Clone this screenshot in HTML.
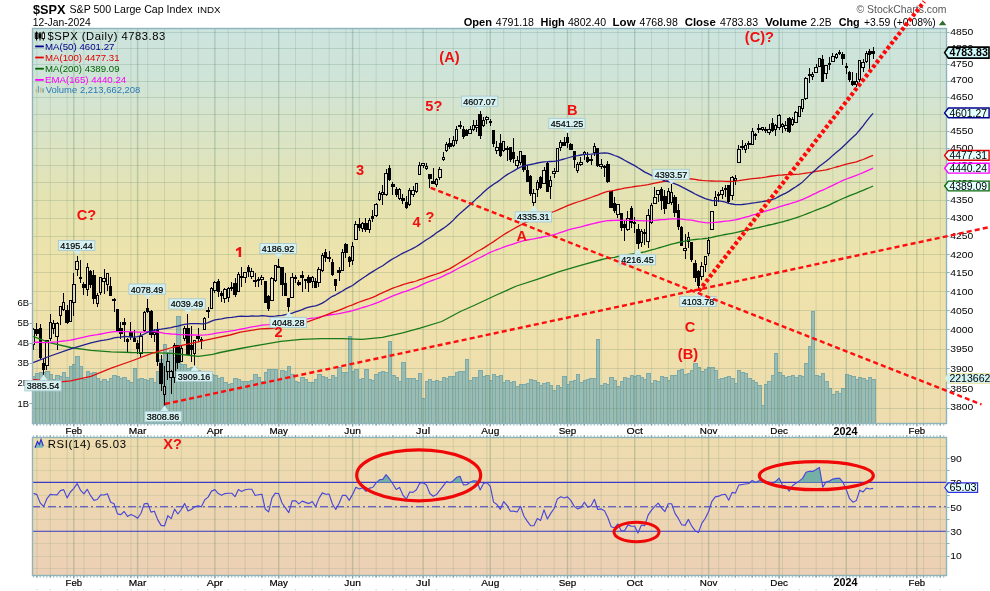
<!DOCTYPE html><html><head><meta charset="utf-8"><title>$SPX</title><style>html,body{margin:0;padding:0;background:#fff}body{width:990px;height:591px;overflow:hidden;position:relative;font-family:"Liberation Sans",sans-serif}svg text{font-family:"Liberation Sans",sans-serif}</style></head><body><svg width="990" height="591" viewBox="0 0 990 591" style="position:absolute;left:0;top:0;will-change:transform">
<defs>
<linearGradient id="g1" x1="0" y1="0" x2="0" y2="1">
<stop offset="0" stop-color="#cce4df"/><stop offset="0.12" stop-color="#cfe4d8"/><stop offset="0.45" stop-color="#e6e3b0"/><stop offset="0.62" stop-color="#efe3ab"/><stop offset="1" stop-color="#eedcae"/>
</linearGradient>
<linearGradient id="g2" x1="0" y1="0" x2="0" y2="1">
<stop offset="0" stop-color="#eedcae"/><stop offset="1" stop-color="#ecd0b6"/>
</linearGradient>
<clipPath id="cp1"><rect x="32" y="28" width="915" height="396"/></clipPath>
<clipPath id="cp2"><rect x="32" y="437" width="915" height="139"/></clipPath>
</defs>
<rect x="0" y="0" width="990" height="591" fill="#fff"/>
<rect x="32" y="28" width="915" height="396" fill="url(#g1)"/>
<rect x="32" y="437" width="915" height="139" fill="url(#g2)"/>
<path d="M32.5 424V376.5H35.5V424M35.5 424V373.5H39.5V424M39.5 424V372.5H42.5V424M42.5 424V372.5H45.5V424M45.5 424V371.5H49.5V424M49.5 424V374.5H52.5V424M52.5 424V379.5H55.5V424M55.5 424V375.5H59.5V424M59.5 424V376.5H62.5V424M62.5 424V372.5H65.5V424M65.5 424V377.5H69.5V424M69.5 424V366.5H72.5V424M72.5 424V364.5H75.5V424M75.5 424V356.5H79.5V424M79.5 424V366.5H82.5V424M82.5 424V379.5H86.5V424M86.5 424V371.5H89.5V424M89.5 424V373.5H92.5V424M92.5 424V372.5H96.5V424M96.5 424V378.5H99.5V424M99.5 424V381.5H102.5V424M102.5 424V379.5H106.5V424M106.5 424V381.5H109.5V424M109.5 424V378.5H112.5V424M112.5 424V375.5H116.5V424M116.5 424V376.5H119.5V424M119.5 424V378.5H122.5V424M122.5 424V377.5H126.5V424M126.5 424V380.5H129.5V424M129.5 424V382.5H133.5V424M133.5 424V368.5H136.5V424M136.5 424V379.5H139.5V424M139.5 424V378.5H143.5V424M143.5 424V379.5H146.5V424M146.5 424V380.5H149.5V424M149.5 424V378.5H153.5V424M153.5 424V382.5H156.5V424M156.5 424V371.5H159.5V424M159.5 424V359.5H163.5V424M163.5 424V344.5H166.5V424M166.5 424V352.5H169.5V424M169.5 424V350.5H173.5V424M173.5 424V357.5H176.5V424M176.5 424V316.5H180.5V424M180.5 424V364.5H183.5V424M183.5 424V364.5H186.5V424M186.5 424V368.5H190.5V424M190.5 424V367.5H193.5V424M193.5 424V367.5H196.5V424M196.5 424V370.5H200.5V424M200.5 424V372.5H203.5V424M203.5 424V374.5H206.5V424M206.5 424V374.5H210.5V424M210.5 424V374.5H213.5V424M213.5 424V375.5H217.5V424M217.5 424V378.5H220.5V424M220.5 424V377.5H223.5V424M223.5 424V382.5H227.5V424M227.5 424V384.5H230.5V424M230.5 424V383.5H233.5V424M233.5 424V378.5H237.5V424M237.5 424V379.5H240.5V424M240.5 424V381.5H243.5V424M243.5 424V381.5H247.5V424M247.5 424V381.5H250.5V424M250.5 424V380.5H253.5V424M253.5 424V374.5H257.5V424M257.5 424V377.5H260.5V424M260.5 424V381.5H264.5V424M264.5 424V372.5H267.5V424M267.5 424V369.5H270.5V424M270.5 424V369.5H274.5V424M274.5 424V369.5H277.5V424M277.5 424V379.5H280.5V424M280.5 424V370.5H284.5V424M284.5 424V371.5H287.5V424M287.5 424V366.5H290.5V424M290.5 424V374.5H294.5V424M294.5 424V381.5H297.5V424M297.5 424V382.5H300.5V424M300.5 424V377.5H304.5V424M304.5 424V379.5H307.5V424M307.5 424V382.5H311.5V424M311.5 424V382.5H314.5V424M314.5 424V379.5H317.5V424M317.5 424V374.5H321.5V424M321.5 424V376.5H324.5V424M324.5 424V377.5H327.5V424M327.5 424V379.5H331.5V424M331.5 424V375.5H334.5V424M334.5 424V377.5H337.5V424M337.5 424V367.5H341.5V424M341.5 424V372.5H344.5V424M344.5 424V372.5H348.5V424M348.5 424V336.5H351.5V424M351.5 424V371.5H354.5V424M354.5 424V369.5H358.5V424M358.5 424V379.5H361.5V424M361.5 424V378.5H364.5V424M364.5 424V369.5H368.5V424M368.5 424V379.5H371.5V424M371.5 424V380.5H374.5V424M374.5 424V374.5H378.5V424M378.5 424V372.5H381.5V424M381.5 424V371.5H384.5V424M384.5 424V372.5H388.5V424M388.5 424V341.5H391.5V424M391.5 424V375.5H395.5V424M395.5 424V377.5H398.5V424M398.5 424V381.5H401.5V424M401.5 424V362.5H405.5V424M405.5 424V378.5H408.5V424M408.5 424V378.5H411.5V424M411.5 424V378.5H415.5V424M415.5 424V380.5H418.5V424M418.5 424V373.5H421.5V424M421.5 424V398.5H425.5V424M425.5 424V381.5H428.5V424M428.5 424V379.5H431.5V424M431.5 424V381.5H435.5V424M435.5 424V380.5H438.5V424M438.5 424V381.5H442.5V424M442.5 424V377.5H445.5V424M445.5 424V378.5H448.5V424M448.5 424V376.5H452.5V424M452.5 424V376.5H455.5V424M455.5 424V372.5H458.5V424M458.5 424V371.5H462.5V424M462.5 424V371.5H465.5V424M465.5 424V359.5H468.5V424M468.5 424V380.5H472.5V424M472.5 424V377.5H475.5V424M475.5 424V377.5H478.5V424M478.5 424V370.5H482.5V424M482.5 424V376.5H485.5V424M485.5 424V375.5H489.5V424M489.5 424V380.5H492.5V424M492.5 424V374.5H495.5V424M495.5 424V376.5H499.5V424M499.5 424V375.5H502.5V424M502.5 424V382.5H505.5V424M505.5 424V380.5H509.5V424M509.5 424V382.5H512.5V424M512.5 424V381.5H515.5V424M515.5 424V386.5H519.5V424M519.5 424V384.5H522.5V424M522.5 424V384.5H526.5V424M526.5 424V383.5H529.5V424M529.5 424V379.5H532.5V424M532.5 424V380.5H536.5V424M536.5 424V382.5H539.5V424M539.5 424V385.5H542.5V424M542.5 424V383.5H546.5V424M546.5 424V382.5H549.5V424M549.5 424V385.5H552.5V424M552.5 424V390.5H556.5V424M556.5 424V385.5H559.5V424M559.5 424V387.5H562.5V424M562.5 424V376.5H566.5V424M566.5 424V384.5H569.5V424M569.5 424V381.5H573.5V424M573.5 424V380.5H576.5V424M576.5 424V374.5H579.5V424M579.5 424V382.5H583.5V424M583.5 424V380.5H586.5V424M586.5 424V379.5H589.5V424M589.5 424V378.5H593.5V424M593.5 424V378.5H596.5V424M596.5 424V339.5H599.5V424M599.5 424V385.5H603.5V424M603.5 424V383.5H606.5V424M606.5 424V384.5H609.5V424M609.5 424V377.5H613.5V424M613.5 424V380.5H616.5V424M616.5 424V386.5H620.5V424M620.5 424V381.5H623.5V424M623.5 424V377.5H626.5V424M626.5 424V378.5H630.5V424M630.5 424V375.5H633.5V424M633.5 424V376.5H636.5V424M636.5 424V375.5H640.5V424M640.5 424V377.5H643.5V424M643.5 424V379.5H646.5V424M646.5 424V373.5H650.5V424M650.5 424V383.5H653.5V424M653.5 424V380.5H656.5V424M656.5 424V381.5H660.5V424M660.5 424V376.5H663.5V424M663.5 424V377.5H667.5V424M667.5 424V380.5H670.5V424M670.5 424V375.5H673.5V424M673.5 424V375.5H677.5V424M677.5 424V370.5H680.5V424M680.5 424V369.5H683.5V424M683.5 424V374.5H687.5V424M687.5 424V373.5H690.5V424M690.5 424V370.5H693.5V424M693.5 424V363.5H697.5V424M697.5 424V367.5H700.5V424M700.5 424V371.5H704.5V424M704.5 424V369.5H707.5V424M707.5 424V367.5H710.5V424M710.5 424V367.5H714.5V424M714.5 424V370.5H717.5V424M717.5 424V379.5H720.5V424M720.5 424V378.5H724.5V424M724.5 424V377.5H727.5V424M727.5 424V376.5H730.5V424M730.5 424V378.5H734.5V424M734.5 424V383.5H737.5V424M737.5 424V370.5H740.5V424M740.5 424V372.5H744.5V424M744.5 424V373.5H747.5V424M747.5 424V378.5H751.5V424M751.5 424V380.5H754.5V424M754.5 424V382.5H757.5V424M757.5 424V385.5H761.5V424M761.5 424V405.5H764.5V424M764.5 424V384.5H767.5V424M767.5 424V381.5H771.5V424M771.5 424V375.5H774.5V424M774.5 424V353.5H777.5V424M777.5 424V372.5H781.5V424M781.5 424V375.5H784.5V424M784.5 424V377.5H787.5V424M787.5 424V376.5H791.5V424M791.5 424V375.5H794.5V424M794.5 424V377.5H798.5V424M798.5 424V375.5H801.5V424M801.5 424V376.5H804.5V424M804.5 424V363.5H808.5V424M808.5 424V346.5H811.5V424M811.5 424V311.5H814.5V424M814.5 424V375.5H818.5V424M818.5 424V376.5H821.5V424M821.5 424V373.5H824.5V424M824.5 424V381.5H828.5V424M828.5 424V388.5H831.5V424M831.5 424V394.5H835.5V424M835.5 424V391.5H838.5V424M838.5 424V393.5H841.5V424M841.5 424V388.5H845.5V424M845.5 424V374.5H848.5V424M848.5 424V375.5H851.5V424M851.5 424V376.5H855.5V424M855.5 424V379.5H858.5V424M858.5 424V377.5H861.5V424M861.5 424V378.5H865.5V424M865.5 424V380.5H868.5V424M868.5 424V377.5H871.5V424M871.5 424V379.5H875.5V424" fill="#9cbcb1" stroke="#7caaa8" stroke-width="1" clip-path="url(#cp1)" shape-rendering="crispEdges"/>
<path d="M36.9 28V424M36.9 437V576M50.3 28V424M50.3 437V576M67.1 28V424M67.1 437V576M83.9 28V424M83.9 437V576M100.7 28V424M100.7 437V576M117.5 28V424M117.5 437V576M130.9 28V424M130.9 437V576M147.7 28V424M147.7 437V576M164.5 28V424M164.5 437V576M181.3 28V424M181.3 437V576M198.1 28V424M198.1 437V576M228.3 28V424M228.3 437V576M245.1 28V424M245.1 437V576M261.9 28V424M261.9 437V576M295.5 28V424M295.5 437V576M312.3 28V424M312.3 437V576M329.1 28V424M329.1 437V576M345.8 28V424M345.8 437V576M359.3 28V424M359.3 437V576M376.1 28V424M376.1 437V576M392.9 28V424M392.9 437V576M406.3 28V424M406.3 437V576M436.5 28V424M436.5 437V576M453.3 28V424M453.3 437V576M470.1 28V424M470.1 437V576M486.9 28V424M486.9 437V576M503.7 28V424M503.7 437V576M520.5 28V424M520.5 437V576M537.3 28V424M537.3 437V576M554.1 28V424M554.1 437V576M570.9 28V424M570.9 437V576M584.3 28V424M584.3 437V576M601.1 28V424M601.1 437V576M617.9 28V424M617.9 437V576M651.5 28V424M651.5 437V576M668.3 28V424M668.3 437V576M685.1 28V424M685.1 437V576M701.9 28V424M701.9 437V576M718.7 28V424M718.7 437V576M735.4 28V424M735.4 437V576M752.2 28V424M752.2 437V576M765.7 28V424M765.7 437V576M782.5 28V424M782.5 437V576M799.3 28V424M799.3 437V576M816.1 28V424M816.1 437V576M832.8 28V424M832.8 437V576M859.7 28V424M859.7 437V576M876.5 28V424M876.5 437V576M889.9 28V424M889.9 437V576M906.7 28V424M906.7 437V576M923.5 28V424M923.5 437V576M940.3 28V424M940.3 437V576" stroke="#4f7f5c" stroke-opacity="0.16" stroke-width="1" fill="none"/>
<path d="M73.8 28V424M73.8 437V576M137.6 28V424M137.6 437V576M214.9 28V424M214.9 437V576M278.7 28V424M278.7 437V576M352.6 28V424M352.6 437V576M423.1 28V424M423.1 437V576M490.3 28V424M490.3 437V576M567.5 28V424M567.5 437V576M634.7 28V424M634.7 437V576M708.6 28V424M708.6 437V576M779.1 28V424M779.1 437V576M846.3 28V424M846.3 437V576M916.8 28V424M916.8 437V576" stroke="#4f7f5c" stroke-opacity="0.28" stroke-width="1.4" fill="none"/>
<path d="M32 408.5H947M32 388.5H947M32 368.5H947M32 349.5H947M32 329.5H947M32 310.5H947M32 291.5H947M32 272.5H947M32 254.5H947M32 236.5H947M32 218.5H947M32 200.5H947M32 182.5H947M32 165.5H947M32 148.5H947M32 131.5H947M32 114.5H947M32 97.5H947M32 81.5H947M32 64.5H947M32 48.5H947M32 32.5H947" stroke="#4f7f5c" stroke-opacity="0.2" stroke-width="1" fill="none"/>
<path d="M32 568.5H947M32 556.5H947M32 543.5H947M32 531.5H947M32 519.5H947M32 507.5H947M32 495.5H947M32 482.5H947M32 470.5H947M32 458.5H947M32 446.5H947" stroke="#4f7f5c" stroke-opacity="0.13" stroke-width="1" fill="none"/>
<path d="M33.5 328V329M33.5 344V350M36.5 323V336M40.5 324V359M43.5 359V375M46.5 365V370M50.5 314V322M50.5 338V341M53.5 320V323M53.5 328V334M57.5 322V323M57.5 336V350M60.5 315V325M63.5 293V302M63.5 309V311M67.5 305V324M73.5 273V284M73.5 302V316M77.5 256V261M77.5 269V276M80.5 260V283M83.5 282V295M87.5 263V267M87.5 289V296M90.5 270V288M93.5 270V304M97.5 293V295M97.5 303V307M100.5 292V295M104.5 269V278M104.5 281V294M107.5 284V291M110.5 277V296M114.5 298V299M114.5 300V312M117.5 309V332M120.5 322V339M124.5 318V342M127.5 338V352M130.5 322V340M134.5 330V342M137.5 340V354M140.5 333V336M140.5 353V358M144.5 311V312M144.5 330V332M147.5 299V313M151.5 310V338M154.5 329V332M154.5 334V342M157.5 322V366M161.5 355V391M164.5 366V386M164.5 394V406M167.5 353V361M167.5 371V380M171.5 370V371M171.5 377V394M174.5 343V345M174.5 377V383M177.5 345V369M181.5 346V348M184.5 326V328M184.5 338V341M187.5 314V355M191.5 326V362M194.5 353V366M198.5 328V342M201.5 337V349M204.5 317V318M208.5 307V310M208.5 311V318M211.5 287V288M214.5 281V282M214.5 290V293M218.5 279V297M221.5 291V302M224.5 288V289M224.5 298V303M228.5 287V288M228.5 297V302M231.5 282V291M235.5 278V297M238.5 272V274M241.5 267V287M245.5 277V283M248.5 265V277M251.5 268V271M251.5 276V279M255.5 273V287M258.5 277V279M258.5 280V287M261.5 275V277M261.5 279V285M265.5 281V303M268.5 295V311M271.5 277V278M275.5 280V282M278.5 259V266M282.5 267V296M285.5 273V296M288.5 298V312M292.5 273V277M295.5 275V277M295.5 278V283M298.5 280V286M302.5 271V292M305.5 279V289M308.5 275V292M312.5 276V277M312.5 281V288M315.5 278V288M318.5 267V269M318.5 282V287M322.5 253V255M322.5 270V272M325.5 249V262M329.5 251V257M329.5 258V262M332.5 259V276M335.5 279V291M339.5 267V281M342.5 249V252M345.5 243V258M349.5 256V267M352.5 242V246M352.5 260V265M355.5 221V224M359.5 218V231M362.5 222V223M362.5 228V232M365.5 218V232M369.5 218V220M369.5 229V233M372.5 210V222M376.5 203V204M376.5 215V217M379.5 191V193M379.5 199V201M382.5 185V192M382.5 194V205M386.5 169V173M386.5 194V196M389.5 165V181M392.5 182V195M396.5 187V197M399.5 188V189M399.5 198V200M402.5 194V204M406.5 196V209M409.5 188V190M409.5 204V206M413.5 186V190M413.5 194V197M416.5 191V193M419.5 162V165M423.5 165V168M426.5 163V166M426.5 168V170M429.5 174V188M433.5 168V184M436.5 178V179M436.5 184V187M439.5 167V169M439.5 177V180M443.5 152V157M443.5 159V161M446.5 142V144M446.5 150V152M449.5 138V149M453.5 136V140M453.5 145V147M456.5 126V129M456.5 140V144M460.5 121V125M460.5 126V129M463.5 126V139M466.5 129V136M470.5 126V129M473.5 120V125M473.5 129V131M476.5 120V125M476.5 127V132M480.5 111V139M483.5 117V120M483.5 125V127M486.5 116V117M486.5 119V124M490.5 119V126M493.5 130V147M496.5 141V147M496.5 150V154M500.5 134V157M503.5 150V152M507.5 146V148M507.5 149V161M510.5 147V162M513.5 138V163M517.5 156V160M517.5 165V168M520.5 162V165M523.5 155V172M527.5 165V182M530.5 175V196M533.5 189V193M533.5 202V206M537.5 180V182M537.5 189V197M540.5 176V189M544.5 167V170M547.5 162V192M550.5 176V180M550.5 186V199M554.5 168V171M554.5 173V178M560.5 140V142M560.5 147V151M564.5 137V146M567.5 133V148M570.5 143V150M574.5 151V168M577.5 162V164M577.5 170V173M580.5 157V162M580.5 164V166M584.5 151V152M584.5 154V160M587.5 152V163M591.5 155V159M591.5 160V165M594.5 143V146M594.5 152V156M597.5 148V167M601.5 159V164M601.5 166V169M604.5 165V177M607.5 161V183M611.5 191V208M614.5 197V213M617.5 214V218M621.5 213V231M624.5 220V241M627.5 211V218M627.5 229V231M631.5 206V228M634.5 217V222M634.5 223V233M638.5 224V249M641.5 229V231M641.5 242V247M644.5 229V245M648.5 209V215M648.5 241V248M651.5 203V205M651.5 222V224M654.5 187V197M658.5 194V202M661.5 187V210M664.5 190V214M668.5 188V191M671.5 184V192M671.5 202V205M674.5 195V217M678.5 204V230M681.5 226V246M685.5 234V248M685.5 250V259M688.5 232V237M688.5 241V248M691.5 242V262M695.5 260V282M698.5 270V291M701.5 262V266M701.5 276V280M705.5 264V272M708.5 237V240M708.5 253V256M715.5 191V197M718.5 192V194M718.5 195V202M722.5 187V190M722.5 194V199M725.5 185V197M728.5 185V203M732.5 176V177M732.5 195V200M735.5 175V178M735.5 180V185M738.5 145V149M742.5 140V150M745.5 143V145M745.5 149V153M748.5 141V143M748.5 144V149M752.5 128V131M755.5 133V140M758.5 124V128M758.5 129V133M762.5 129V131M765.5 127V133M769.5 124V129M769.5 132V135M772.5 118V132M775.5 124V125M775.5 129V136M779.5 114V115M779.5 127V130M782.5 123V124M782.5 126V133M785.5 121V125M785.5 128V131M789.5 117V133M792.5 117V119M792.5 124V126M795.5 111V112M802.5 108V112M805.5 77V78M805.5 98V100M809.5 68V83M812.5 72V74M812.5 76V80M816.5 64V67M822.5 55V82M826.5 73V79M829.5 57V63M829.5 64V70M832.5 53V56M836.5 53V54M836.5 57V59M839.5 50V55M842.5 52V65M846.5 63V74M849.5 71V82M852.5 72V86M856.5 73V81M856.5 84V87M859.5 79V82M863.5 59V62M863.5 67V72M866.5 51V53M866.5 61V63M869.5 49V69M873.5 47V59" stroke="#000" stroke-width="1" fill="none" shape-rendering="crispEdges"/>
<path d="M32.5 329.5h2V344.5h-2zM45.5 340.5h3V365.5h-3zM49.5 322.5h2V338.5h-2zM52.5 323.5h2V328.5h-2zM55.5 323.5h3V336.5h-3zM59.5 306.5h2V315.5h-2zM62.5 302.5h2V309.5h-2zM69.5 300.5h2V321.5h-2zM72.5 284.5h3V302.5h-3zM75.5 261.5h3V269.5h-3zM86.5 267.5h2V289.5h-2zM96.5 295.5h2V303.5h-2zM99.5 277.5h2V292.5h-2zM102.5 278.5h3V281.5h-3zM106.5 273.5h2V284.5h-2zM139.5 336.5h3V353.5h-3zM143.5 312.5h2V330.5h-2zM153.5 332.5h2V334.5h-2zM163.5 386.5h2V394.5h-2zM166.5 361.5h3V371.5h-3zM169.5 371.5h3V377.5h-3zM173.5 345.5h2V377.5h-2zM180.5 348.5h2V361.5h-2zM183.5 328.5h2V338.5h-2zM193.5 340.5h2V353.5h-2zM203.5 318.5h2V329.5h-2zM210.5 288.5h2V308.5h-2zM213.5 282.5h3V290.5h-3zM223.5 289.5h3V298.5h-3zM227.5 288.5h2V297.5h-2zM237.5 274.5h2V291.5h-2zM243.5 272.5h3V277.5h-3zM250.5 271.5h3V276.5h-3zM260.5 277.5h3V279.5h-3zM270.5 278.5h3V300.5h-3zM274.5 265.5h2V280.5h-2zM290.5 277.5h3V297.5h-3zM311.5 277.5h2V281.5h-2zM317.5 269.5h3V282.5h-3zM321.5 255.5h2V270.5h-2zM341.5 252.5h2V270.5h-2zM351.5 246.5h2V260.5h-2zM354.5 224.5h3V239.5h-3zM361.5 223.5h2V228.5h-2zM368.5 220.5h2V229.5h-2zM374.5 204.5h3V215.5h-3zM378.5 193.5h2V199.5h-2zM381.5 192.5h2V194.5h-2zM384.5 173.5h3V194.5h-3zM398.5 189.5h2V198.5h-2zM408.5 190.5h2V204.5h-2zM411.5 190.5h3V194.5h-3zM415.5 183.5h2V191.5h-2zM418.5 165.5h2V174.5h-2zM421.5 163.5h3V165.5h-3zM425.5 166.5h2V168.5h-2zM435.5 179.5h2V184.5h-2zM438.5 169.5h3V177.5h-3zM442.5 157.5h2V159.5h-2zM445.5 144.5h2V150.5h-2zM452.5 140.5h2V145.5h-2zM455.5 129.5h2V140.5h-2zM468.5 129.5h3V133.5h-3zM472.5 125.5h2V129.5h-2zM475.5 125.5h3V127.5h-3zM482.5 120.5h2V125.5h-2zM485.5 117.5h3V119.5h-3zM495.5 147.5h3V150.5h-3zM502.5 141.5h2V150.5h-2zM515.5 160.5h3V165.5h-3zM519.5 151.5h2V162.5h-2zM532.5 193.5h3V202.5h-3zM536.5 182.5h2V189.5h-2zM542.5 170.5h3V183.5h-3zM549.5 180.5h2V186.5h-2zM552.5 171.5h3V173.5h-3zM556.5 148.5h2V171.5h-2zM559.5 142.5h2V147.5h-2zM576.5 164.5h2V170.5h-2zM579.5 162.5h3V164.5h-3zM583.5 152.5h2V154.5h-2zM593.5 146.5h2V152.5h-2zM599.5 164.5h3V166.5h-3zM616.5 204.5h3V214.5h-3zM626.5 218.5h3V229.5h-3zM640.5 231.5h2V242.5h-2zM646.5 215.5h3V241.5h-3zM650.5 205.5h2V222.5h-2zM653.5 197.5h3V203.5h-3zM656.5 190.5h3V194.5h-3zM667.5 191.5h2V203.5h-2zM670.5 192.5h2V202.5h-2zM683.5 248.5h3V250.5h-3zM687.5 237.5h2V241.5h-2zM700.5 266.5h3V276.5h-3zM704.5 256.5h2V264.5h-2zM707.5 240.5h2V253.5h-2zM710.5 211.5h3V229.5h-3zM714.5 197.5h2V205.5h-2zM720.5 190.5h3V194.5h-3zM730.5 177.5h3V195.5h-3zM734.5 178.5h2V180.5h-2zM737.5 149.5h3V162.5h-3zM744.5 145.5h2V149.5h-2zM751.5 131.5h2V144.5h-2zM761.5 127.5h2V129.5h-2zM767.5 129.5h3V132.5h-3zM774.5 125.5h2V129.5h-2zM777.5 115.5h3V127.5h-3zM781.5 124.5h2V126.5h-2zM784.5 125.5h3V128.5h-3zM791.5 119.5h2V124.5h-2zM794.5 112.5h3V122.5h-3zM798.5 106.5h2V116.5h-2zM801.5 99.5h2V108.5h-2zM804.5 78.5h3V98.5h-3zM811.5 74.5h2V76.5h-2zM814.5 67.5h3V72.5h-3zM818.5 58.5h2V66.5h-2zM824.5 65.5h3V73.5h-3zM831.5 56.5h3V61.5h-3zM835.5 54.5h2V57.5h-2zM855.5 81.5h2V84.5h-2zM858.5 60.5h2V79.5h-2zM861.5 62.5h3V67.5h-3zM865.5 53.5h2V61.5h-2z" stroke="#000" stroke-width="1" fill="#fff" fill-opacity="0.22" shape-rendering="crispEdges"/>
<path d="M35 329h4V334h-4zM39 328h3V358h-3zM42 363h3V370h-3zM65 310h4V323h-4zM79 277h3V279h-3zM82 284h4V288h-4zM89 271h3V285h-3zM92 275h4V299h-4zM109 286h3V296h-3zM112 299h4V301h-4zM116 309h3V331h-3zM119 328h4V334h-4zM122 322h4V325h-4zM126 339h3V342h-3zM129 332h4V337h-4zM133 338h3V342h-3zM136 343h3V349h-3zM146 308h3V312h-3zM149 311h4V335h-4zM156 330h3V362h-3zM159 363h4V384h-4zM176 345h4V363h-4zM186 328h4V355h-4zM190 345h3V350h-3zM196 336h4V339h-4zM200 339h3V341h-3zM206 310h4V312h-4zM217 281h3V292h-3zM220 293h3V296h-3zM230 287h3V289h-3zM233 283h4V295h-4zM240 276h3V278h-3zM247 267h3V272h-3zM253 280h4V282h-4zM257 279h3V281h-3zM264 281h3V303h-3zM267 296h3V309h-3zM277 266h3V268h-3zM280 267h4V285h-4zM284 283h3V296h-3zM287 298h3V307h-3zM294 277h3V279h-3zM297 282h4V285h-4zM300 275h4V278h-4zM304 279h3V281h-3zM307 277h4V283h-4zM314 281h3V288h-3zM324 252h3V258h-3zM327 257h4V259h-4zM331 262h3V275h-3zM334 279h3V286h-3zM337 270h4V273h-4zM344 244h4V253h-4zM348 257h3V262h-3zM358 224h3V228h-3zM364 223h4V230h-4zM371 216h3V219h-3zM388 168h3V180h-3zM391 184h4V187h-4zM395 189h3V195h-3zM401 198h4V201h-4zM405 202h3V208h-3zM428 174h4V179h-4zM431 181h4V184h-4zM448 143h4V147h-4zM458 125h4V127h-4zM462 129h3V137h-3zM465 130h3V136h-3zM478 114h4V136h-4zM489 121h3V123h-3zM492 130h3V144h-3zM499 143h3V156h-3zM505 148h4V150h-4zM509 147h3V160h-3zM512 152h3V159h-3zM522 155h4V170h-4zM526 170h3V182h-3zM529 176h3V194h-3zM539 177h3V188h-3zM546 163h3V192h-3zM562 142h4V146h-4zM566 137h3V143h-3zM569 144h4V150h-4zM573 151h3V160h-3zM586 157h3V162h-3zM589 159h4V161h-4zM596 148h3V166h-3zM603 166h3V168h-3zM606 164h4V182h-4zM609 191h4V208h-4zM613 203h3V211h-3zM620 213h3V228h-3zM623 224h3V228h-3zM630 208h3V223h-3zM633 222h3V224h-3zM636 229h4V244h-4zM643 232h3V234h-3zM660 189h3V201h-3zM663 196h4V209h-4zM673 197h4V213h-4zM677 210h3V227h-3zM680 227h3V246h-3zM690 242h3V260h-3zM693 263h4V278h-4zM697 271h3V286h-3zM717 194h3V196h-3zM724 188h3V190h-3zM727 185h3V202h-3zM740 146h4V148h-4zM747 143h4V145h-4zM754 134h3V136h-3zM757 128h4V130h-4zM764 129h3V131h-3zM771 123h3V131h-3zM787 118h4V132h-4zM808 74h3V76h-3zM821 59h3V82h-3zM828 63h3V65h-3zM838 52h3V54h-3zM841 54h4V59h-4zM845 66h3V68h-3zM848 72h3V80h-3zM851 81h4V85h-4zM868 51h3V55h-3zM871 51h4V54h-4z" fill="#000" shape-rendering="crispEdges"/>
<path d="M33.0 336.3L50.3 342.8L70.6 347.5L90.9 350.3L111.2 351.9L131.5 352.5L151.8 352.6L172.1 353.4L186.3 355.0L198.5 356.4L212.7 354.4L220.0 352.5L240.3 348.5L260.6 344.8L280.9 341.4L301.2 339.3L321.5 338.7L341.8 338.7L362.1 339.3L382.4 337.3L402.7 332.8L420.0 328.2L441.7 321.5L460.4 311.5L474.0 305.5L495.3 295.5L516.6 286.0L537.9 279.1L559.3 271.7L580.6 265.3L601.9 259.5L604.5 258.9L607.8 258.3L611.2 257.8L614.5 257.3L617.9 256.5L621.3 255.9L624.6 255.3L628.0 254.7L631.3 254.1L634.7 253.6L638.0 253.2L641.4 252.5L644.8 251.8L648.1 250.9L651.5 249.9L654.8 249.1L658.2 248.0L661.6 247.1L664.9 246.2L668.3 245.1L671.6 244.2L675.0 243.3L678.3 242.5L681.7 241.8L685.1 241.1L688.4 240.4L691.8 239.9L695.1 239.5L698.5 239.2L701.9 238.9L705.2 238.5L708.6 238.1L711.9 237.4L715.3 236.5L718.7 235.8L722.0 235.2L725.4 234.5L728.7 233.9L732.1 233.3L735.4 232.7L738.8 231.8L742.2 231.0L745.5 230.3L748.9 229.7L752.2 229.0L755.6 228.2L759.0 227.5L762.3 226.7L765.7 225.8L769.0 225.0L772.4 224.3L775.7 223.5L779.1 222.7L782.5 221.8L785.8 220.9L789.2 220.0L792.5 218.9L795.9 217.8L799.3 216.7L802.6 215.5L806.0 214.2L809.3 212.8L812.7 211.5L816.1 210.2L819.4 208.9L822.8 207.7L826.1 206.3L829.5 204.8L832.8 203.2L836.2 201.6L839.6 200.0L842.9 198.5L846.3 197.1L849.6 195.7L853.0 194.4L856.4 193.2L859.7 191.7L863.1 190.3L866.4 188.9L869.8 187.5L873.1 186.0" stroke="#1a7a1a" stroke-width="1.3" fill="none" stroke-linejoin="round" clip-path="url(#cp1)"/>
<path d="M33.5 342.3L36.9 342.1L40.2 342.3L43.6 342.6L46.9 342.6L50.3 342.3L53.6 342.1L57.0 341.9L60.4 341.4L63.7 341.0L67.1 340.7L70.4 340.2L73.8 339.5L77.2 338.6L80.5 337.8L83.9 337.2L87.2 336.3L90.6 335.7L94.0 335.2L97.3 334.7L100.7 334.0L104.0 333.3L107.4 332.6L110.7 332.1L114.1 331.7L117.5 331.7L120.8 331.7L124.2 331.6L127.5 331.7L130.9 331.8L134.3 331.9L137.6 332.1L141.0 332.1L144.3 331.9L147.7 331.6L151.0 331.7L154.4 331.7L157.8 332.0L161.1 332.6L164.5 333.3L167.8 333.6L171.2 334.0L174.6 334.2L177.9 334.5L181.3 334.7L184.6 334.6L188.0 334.8L191.4 335.0L194.7 335.0L198.1 335.1L201.4 335.1L204.8 334.9L208.1 334.6L211.5 334.1L214.9 333.4L218.2 332.9L221.6 332.4L224.9 331.9L228.3 331.4L231.7 330.8L235.0 330.4L238.4 329.7L241.7 329.0L245.1 328.3L248.4 327.6L251.8 326.9L255.2 326.4L258.5 325.8L261.9 325.2L265.2 324.9L268.6 324.7L272.0 324.1L275.3 323.4L278.7 322.7L282.0 322.2L285.4 321.9L288.8 321.7L292.1 321.1L295.5 320.6L298.8 320.1L302.2 319.6L305.5 319.1L308.9 318.7L312.3 318.2L315.6 317.8L319.0 317.2L322.3 316.4L325.7 315.7L329.1 315.0L332.4 314.5L335.8 314.1L339.1 313.6L342.5 312.8L345.8 312.1L349.2 311.5L352.6 310.7L355.9 309.6L359.3 308.6L362.6 307.5L366.0 306.6L369.4 305.5L372.7 304.4L376.1 303.1L379.4 301.8L382.8 300.4L386.1 298.8L389.5 297.3L392.9 295.9L396.2 294.6L399.6 293.3L402.9 292.2L406.3 291.1L409.7 289.9L413.0 288.6L416.4 287.3L419.7 285.8L423.1 284.2L426.5 282.7L429.8 281.4L433.2 280.2L436.5 279.0L439.9 277.6L443.2 276.1L446.6 274.4L450.0 272.8L453.3 271.1L456.7 269.3L460.0 267.5L463.4 265.8L466.8 264.2L470.1 262.5L473.5 260.8L476.8 259.1L480.2 257.5L483.5 255.8L486.9 254.0L490.3 252.4L493.6 251.0L497.0 249.7L500.3 248.5L503.7 247.2L507.1 245.9L510.4 244.9L513.8 243.8L517.1 242.7L520.5 241.6L523.9 240.7L527.2 240.0L530.6 239.4L533.9 238.8L537.3 238.1L540.6 237.5L544.0 236.7L547.4 236.1L550.7 235.4L554.1 234.6L557.4 233.6L560.8 232.4L564.2 231.3L567.5 230.2L570.9 229.2L574.2 228.4L577.6 227.6L580.9 226.8L584.3 225.8L587.7 225.0L591.0 224.2L594.4 223.3L597.7 222.5L601.1 221.8L604.5 221.1L607.8 220.7L611.2 220.5L614.5 220.4L617.9 220.2L621.3 220.3L624.6 220.3L628.0 220.3L631.3 220.3L634.7 220.3L638.0 220.6L641.4 220.7L644.8 220.9L648.1 220.8L651.5 220.6L654.8 220.3L658.2 220.0L661.6 219.7L664.9 219.6L668.3 219.2L671.6 218.9L675.0 218.8L678.3 218.9L681.7 219.2L685.1 219.6L688.4 219.8L691.8 220.2L695.1 220.9L698.5 221.6L701.9 222.2L705.2 222.6L708.6 222.8L711.9 222.6L715.3 222.3L718.7 222.0L722.0 221.6L725.4 221.2L728.7 220.9L732.1 220.4L735.4 219.9L738.8 219.0L742.2 218.1L745.5 217.2L748.9 216.3L752.2 215.2L755.6 214.3L759.0 213.2L762.3 212.1L765.7 211.1L769.0 210.1L772.4 209.1L775.7 208.1L779.1 206.9L782.5 205.9L785.8 204.9L789.2 204.0L792.5 202.9L795.9 201.8L799.3 200.6L802.6 199.3L806.0 197.8L809.3 196.3L812.7 194.7L816.1 193.1L819.4 191.4L822.8 190.1L826.1 188.5L829.5 186.9L832.8 185.3L836.2 183.6L839.6 182.0L842.9 180.4L846.3 179.0L849.6 177.8L853.0 176.6L856.4 175.4L859.7 174.0L863.1 172.6L866.4 171.1L869.8 169.6L873.1 168.2" stroke="#ff10f0" stroke-width="1.3" fill="none" stroke-linejoin="round" clip-path="url(#cp1)"/>
<path d="M33.0 379.3L45.0 381.0L60.5 381.8L70.6 380.8L90.9 376.3L111.2 368.2L131.5 361.0L151.8 353.4L172.1 347.5L192.4 343.2L212.7 338.7L230.0 335.0L240.3 332.2L260.6 328.8L268.6 328.5L272.0 328.3L275.3 327.9L278.7 327.2L282.0 326.5L285.4 325.9L288.8 325.6L292.1 324.8L295.5 324.2L298.8 323.8L302.2 323.3L305.5 322.4L308.9 321.3L312.3 320.1L315.6 319.0L319.0 317.9L322.3 316.5L325.7 315.2L329.1 313.8L332.4 312.4L335.8 311.4L339.1 310.2L342.5 308.8L345.8 307.4L349.2 306.0L352.6 304.8L355.9 303.3L359.3 302.0L362.6 300.8L366.0 299.7L369.4 298.6L372.7 297.4L376.1 295.9L379.4 294.1L382.8 292.6L386.1 291.1L389.5 289.6L392.9 288.2L396.2 287.0L399.6 285.9L402.9 284.6L406.3 283.7L409.7 282.7L413.0 282.0L416.4 281.0L419.7 279.7L423.1 278.7L426.5 277.4L429.8 276.2L433.2 275.1L436.5 274.0L439.9 272.9L443.2 271.7L446.6 270.1L450.0 268.6L453.3 266.6L456.7 264.5L460.0 262.5L463.4 260.4L466.8 258.4L470.1 256.2L473.5 254.0L476.8 251.8L480.2 250.0L483.5 248.1L486.9 245.9L490.3 243.7L493.6 241.6L497.0 239.2L500.3 237.0L503.7 234.8L507.1 232.6L510.4 230.8L513.8 228.8L517.1 226.9L520.5 225.2L523.9 223.3L527.2 221.7L530.6 220.3L533.9 218.9L537.3 217.3L540.6 216.0L544.0 214.7L547.4 213.7L550.7 212.7L554.1 211.5L557.4 210.1L560.8 208.6L564.2 207.2L567.5 205.7L570.9 204.3L574.2 203.2L577.6 202.0L580.9 201.0L584.3 199.8L587.7 198.7L591.0 197.5L594.4 196.2L597.7 195.1L601.1 193.7L604.5 192.4L607.8 191.4L611.2 190.9L614.5 190.3L617.9 189.5L621.3 188.9L624.6 188.2L628.0 187.6L631.3 187.1L634.7 186.5L638.0 186.1L641.4 185.7L644.8 185.2L648.1 184.6L651.5 183.8L654.8 183.1L658.2 182.5L661.6 181.9L664.9 181.4L668.3 180.7L671.6 179.7L675.0 179.2L678.3 178.9L681.7 178.9L685.1 178.7L688.4 178.6L691.8 179.0L695.1 179.4L698.5 180.0L701.9 180.4L705.2 180.7L708.6 180.9L711.9 181.0L715.3 181.1L718.7 181.1L722.0 181.2L725.4 181.3L728.7 181.5L732.1 181.3L735.4 181.2L738.8 180.7L742.2 180.1L745.5 179.6L748.9 179.1L752.2 178.6L755.6 178.3L759.0 178.0L762.3 177.6L765.7 177.1L769.0 176.5L772.4 176.0L775.7 175.6L779.1 175.2L782.5 175.0L785.8 174.7L789.2 174.7L792.5 174.5L795.9 174.4L799.3 174.1L802.6 173.7L806.0 173.2L809.3 172.7L812.7 172.1L816.1 171.4L819.4 170.8L822.8 170.4L826.1 169.8L829.5 169.0L832.8 168.0L836.2 167.0L839.6 166.1L842.9 165.1L846.3 164.2L849.6 163.4L853.0 162.6L856.4 161.9L859.7 160.7L863.1 159.5L866.4 158.1L869.8 156.7L873.1 155.4" stroke="#e01010" stroke-width="1.3" fill="none" stroke-linejoin="round" clip-path="url(#cp1)"/>
<path d="M33.0 362.7L50.3 356.0L70.6 348.9L90.9 342.8L100.7 340.6L104.0 340.2L107.4 339.6L110.7 338.9L114.1 337.8L117.5 337.3L120.8 337.1L124.2 336.5L127.5 336.7L130.9 337.0L134.3 337.1L137.6 336.7L141.0 335.7L144.3 334.0L147.7 332.2L151.0 331.4L154.4 330.1L157.8 329.5L161.1 329.2L164.5 328.7L167.8 328.1L171.2 327.7L174.6 326.7L177.9 326.2L181.3 325.1L184.6 324.3L188.0 323.9L191.4 323.7L194.7 323.7L198.1 323.7L201.4 323.9L204.8 323.7L208.1 322.7L211.5 321.1L214.9 319.9L218.2 319.3L221.6 318.8L224.9 318.1L228.3 317.7L231.7 317.4L235.0 316.9L238.4 316.3L241.7 316.2L245.1 316.4L248.4 316.3L251.8 315.9L255.2 316.2L258.5 316.1L261.9 315.6L265.2 315.8L268.6 316.4L272.0 316.4L275.3 316.2L278.7 315.7L282.0 315.3L285.4 314.6L288.8 314.1L292.1 313.2L295.5 311.9L298.8 310.8L302.2 309.6L305.5 308.2L308.9 307.1L312.3 306.4L315.6 305.9L319.0 304.6L322.3 303.1L325.7 301.0L329.1 298.5L332.4 296.3L335.8 294.8L339.1 292.9L342.5 291.0L345.8 288.9L349.2 287.2L352.6 285.5L355.9 282.9L359.3 280.5L362.6 278.2L366.0 276.0L369.4 273.6L372.7 271.6L376.1 269.5L379.4 267.5L382.8 265.7L386.1 263.3L389.5 260.9L392.9 258.8L396.2 257.0L399.6 255.0L402.9 253.1L406.3 251.7L409.7 250.0L413.0 248.3L416.4 246.5L419.7 244.4L423.1 242.0L426.5 239.7L429.8 237.7L433.2 235.4L436.5 232.8L439.9 230.6L443.2 228.4L446.6 225.9L450.0 223.2L453.3 220.1L456.7 216.5L460.0 213.4L463.4 210.6L466.8 207.6L470.1 204.7L473.5 201.6L476.8 198.4L480.2 195.6L483.5 192.3L486.9 189.2L490.3 186.6L493.6 184.3L497.0 182.1L500.3 179.8L503.7 177.0L507.1 174.6L510.4 172.7L513.8 170.9L517.1 168.9L520.5 167.1L523.9 166.0L527.2 165.1L530.6 164.5L533.9 163.8L537.3 163.0L540.6 162.4L544.0 161.8L547.4 161.7L550.7 161.5L554.1 161.4L557.4 160.8L560.8 159.9L564.2 159.0L567.5 158.0L570.9 157.0L574.2 156.1L577.6 155.6L580.9 155.0L584.3 154.4L587.7 154.3L591.0 154.2L594.4 153.8L597.7 153.6L601.1 153.2L604.5 153.0L607.8 153.2L611.2 154.2L614.5 155.5L617.9 156.6L621.3 158.4L624.6 160.3L628.0 162.1L631.3 163.8L634.7 165.6L638.0 167.8L641.4 169.9L644.8 172.1L648.1 173.7L651.5 175.4L654.8 177.0L658.2 178.4L661.6 179.5L664.9 180.8L668.3 181.5L671.6 182.5L675.0 183.8L678.3 185.1L681.7 186.9L685.1 188.6L688.4 190.3L691.8 192.1L695.1 194.0L698.5 195.7L701.9 197.2L705.2 198.6L708.6 199.7L711.9 200.5L715.3 200.7L718.7 200.9L722.0 201.3L725.4 202.1L728.7 203.3L732.1 204.0L735.4 204.7L738.8 204.7L742.2 204.5L745.5 204.1L748.9 203.7L752.2 203.2L755.6 202.7L759.0 202.1L762.3 201.7L765.7 201.0L769.0 200.3L772.4 199.5L775.7 198.3L779.1 196.4L782.5 194.7L785.8 193.1L789.2 191.1L792.5 188.9L795.9 186.8L799.3 184.4L802.6 181.9L806.0 178.6L809.3 175.4L812.7 172.2L816.1 169.2L819.4 166.2L822.8 163.8L826.1 161.3L829.5 158.5L832.8 155.4L836.2 152.6L839.6 149.8L842.9 146.7L846.3 143.5L849.6 140.2L853.0 137.0L856.4 133.9L859.7 130.0L863.1 125.8L866.4 121.3L869.8 117.2L873.1 113.3" stroke="#202090" stroke-width="1.3" fill="none" stroke-linejoin="round" clip-path="url(#cp1)"/>
<path d="M32 482.4H947M32 531.2H947" stroke="#3c3cc8" stroke-width="1.1" fill="none"/>
<path d="M32 506.8H947" stroke="#3c3cc8" stroke-width="1.1" stroke-dasharray="8 3 2 3" fill="none"/>
<path d="M376.6 482.4L379.4 479.8L379.4 482.4zM379.4 482.4L379.4 479.8L382.8 479.4L382.8 482.4zM382.8 482.4L382.8 479.4L386.1 474.6L386.1 482.4zM386.1 482.4L386.1 474.6L389.5 478.8L389.5 482.4zM389.5 482.4L389.5 478.8L391.8 482.4zM445.9 482.4L446.6 481.5L446.6 482.4zM446.6 482.4L446.6 481.5L449.1 482.4zM450.5 482.4L453.3 480.7L453.3 482.4zM453.3 482.4L453.3 480.7L456.7 477.3L456.7 482.4zM456.7 482.4L456.7 477.3L460.0 476.3L460.0 482.4zM460.0 482.4L460.0 476.3L462.4 482.4zM470.1 482.4L470.1 482.3L470.1 482.4zM470.1 482.4L470.1 482.3L473.5 480.7L473.5 482.4zM473.5 482.4L473.5 480.7L476.8 481.0L476.8 482.4zM476.8 482.4L476.8 481.0L477.4 482.4zM750.1 482.4L752.2 480.5L752.2 482.4zM752.2 482.4L752.2 480.5L755.4 482.4zM755.8 482.4L759.0 480.7L759.0 482.4zM759.0 482.4L759.0 480.7L762.3 480.5L762.3 482.4zM762.3 482.4L762.3 480.5L765.1 482.4zM768.0 482.4L769.0 482.2L769.0 482.4zM769.0 482.4L769.0 482.2L769.5 482.4zM774.0 482.4L775.7 481.3L775.7 482.4zM775.7 482.4L775.7 481.3L779.1 478.2L779.1 482.4zM779.1 482.4L779.1 478.2L781.1 482.4zM797.2 482.4L799.3 480.9L799.3 482.4zM799.3 482.4L799.3 480.9L802.6 478.4L802.6 482.4zM802.6 482.4L802.6 478.4L806.0 472.3L806.0 482.4zM806.0 482.4L806.0 472.3L809.3 471.3L809.3 482.4zM809.3 482.4L809.3 471.3L812.7 471.4L812.7 482.4zM812.7 482.4L812.7 471.4L816.1 469.6L816.1 482.4zM816.1 482.4L816.1 469.6L819.4 467.5L819.4 482.4zM819.4 482.4L819.4 467.5L822.0 482.4zM825.8 482.4L826.1 481.8L826.1 482.4zM826.1 482.4L826.1 481.8L829.5 481.1L829.5 482.4zM829.5 482.4L829.5 481.1L832.8 479.1L832.8 482.4zM832.8 482.4L832.8 479.1L836.2 478.4L836.2 482.4zM836.2 482.4L836.2 478.4L839.6 478.2L839.6 482.4zM839.6 482.4L839.6 478.2L842.9 482.2L842.9 482.4zM842.9 482.4L842.9 482.2L843.0 482.4z" fill="#74b0a6"/>
<path d="M33.5 493.4L36.9 494.6L40.2 502.9L43.6 506.6L46.9 498.7L50.3 494.4L53.6 494.8L57.0 494.9L60.4 490.6L63.7 489.6L67.1 497.9L70.4 492.0L73.8 488.3L77.2 483.6L80.5 490.2L83.9 493.8L87.2 489.3L90.6 495.7L94.0 500.4L97.3 499.5L100.7 494.8L104.0 495.0L107.4 493.8L110.7 502.3L114.1 503.8L117.5 513.9L120.8 514.6L124.2 511.5L127.5 516.4L130.9 514.5L134.3 516.0L137.6 518.3L141.0 513.2L144.3 503.8L147.7 503.4L151.0 512.1L154.4 511.2L157.8 519.9L161.1 525.4L164.5 525.9L167.8 515.7L171.2 518.6L174.6 509.1L177.9 514.0L181.3 509.5L184.6 503.4L188.0 510.9L191.4 509.5L194.7 506.8L198.1 505.9L201.4 506.8L204.8 499.7L208.1 497.1L211.5 491.1L214.9 489.6L218.2 493.6L221.6 495.3L224.9 493.6L228.3 493.2L231.7 493.2L235.0 496.7L238.4 489.6L241.7 491.4L245.1 489.7L248.4 489.2L251.8 489.3L255.2 495.5L258.5 494.8L261.9 494.2L265.2 509.0L268.6 511.9L272.0 497.9L275.3 493.2L278.7 493.6L282.0 503.0L285.4 507.9L288.8 512.6L292.1 500.9L295.5 500.7L298.8 503.9L302.2 501.1L305.5 502.4L308.9 503.6L312.3 501.5L315.6 506.8L319.0 498.4L322.3 492.9L325.7 494.2L329.1 494.1L332.4 504.0L335.8 509.4L339.1 503.2L342.5 495.3L345.8 495.3L349.2 500.4L352.6 494.4L355.9 487.2L359.3 489.0L362.6 487.8L366.0 491.4L369.4 488.1L372.7 487.5L376.1 482.9L379.4 479.8L382.8 479.4L386.1 474.6L389.5 478.8L392.9 484.0L396.2 489.5L399.6 487.4L402.9 495.1L406.3 499.2L409.7 492.0L413.0 492.4L416.4 489.7L419.7 483.3L423.1 482.8L426.5 485.0L429.8 493.5L433.2 496.3L436.5 494.6L439.9 490.2L443.2 485.8L446.6 481.5L450.0 482.7L453.3 480.7L456.7 477.3L460.0 476.3L463.4 484.9L466.8 484.7L470.1 482.3L473.5 480.7L476.8 481.0L480.2 490.0L483.5 483.5L486.9 482.6L490.3 486.3L493.6 502.1L497.0 504.5L500.3 509.3L503.7 501.6L507.1 505.5L510.4 511.3L513.8 511.1L517.1 512.0L520.5 506.3L523.9 516.0L527.2 521.1L530.6 525.6L533.9 525.7L537.3 518.5L540.6 520.4L544.0 509.9L547.4 519.0L550.7 513.4L554.1 508.5L557.4 498.9L560.8 496.7L564.2 498.0L567.5 496.9L570.9 500.6L574.2 506.4L577.6 508.9L580.9 507.7L584.3 502.2L587.7 507.1L591.0 506.1L594.4 499.3L597.7 509.5L601.1 508.9L604.5 510.7L607.8 517.5L611.2 526.7L614.5 527.8L617.9 523.9L621.3 530.9L624.6 530.6L628.0 524.9L631.3 526.3L634.7 526.2L638.0 532.9L641.4 525.0L644.8 525.6L648.1 515.1L651.5 510.1L654.8 506.3L658.2 503.2L661.6 508.0L664.9 511.6L668.3 503.7L671.6 503.8L675.0 513.4L678.3 518.4L681.7 524.7L685.1 525.4L688.4 519.4L691.8 526.2L695.1 530.7L698.5 532.4L701.9 523.1L705.2 518.5L708.6 511.6L711.9 501.3L715.3 496.9L718.7 496.1L722.0 494.8L725.4 494.3L728.7 500.2L732.1 492.4L735.4 493.1L738.8 485.1L742.2 484.5L745.5 484.0L748.9 483.5L752.2 480.5L755.6 482.5L759.0 480.7L762.3 480.5L765.7 482.7L769.0 482.2L772.4 483.4L775.7 481.3L779.1 478.2L782.5 485.3L785.8 486.1L789.2 491.1L792.5 485.7L795.9 483.2L799.3 480.9L802.6 478.4L806.0 472.3L809.3 471.3L812.7 471.4L816.1 469.6L819.4 467.5L822.8 487.1L826.1 481.8L829.5 481.1L832.8 479.1L836.2 478.4L839.6 478.2L842.9 482.2L846.3 489.6L849.6 498.7L853.0 502.2L856.4 500.6L859.7 490.2L863.1 491.9L866.4 488.1L869.8 489.0L873.1 488.4" stroke="#4848d8" stroke-width="1.15" fill="none" stroke-linejoin="round"/>
<ellipse cx="418.7" cy="475.3" rx="62" ry="25.5" fill="none" stroke="#f00808" stroke-width="3.2"/>
<ellipse cx="636.5" cy="532" rx="22.5" ry="9.8" fill="none" stroke="#f00808" stroke-width="3"/>
<ellipse cx="816.3" cy="475.7" rx="57" ry="14" fill="none" stroke="#f00808" stroke-width="3.2"/>
<rect x="32.5" y="28.5" width="914" height="395" fill="none" stroke="#8fb3bb" stroke-width="1.4"/>
<rect x="32.5" y="437.5" width="914" height="138" fill="none" stroke="#8fb3bb" stroke-width="1.4"/>
<path d="M947 408.5h2.6M947 388.5h2.6M947 368.5h2.6M947 349.5h2.6M947 329.5h2.6M947 310.5h2.6M947 291.5h2.6M947 272.5h2.6M947 254.5h2.6M947 236.5h2.6M947 218.5h2.6M947 200.5h2.6M947 182.5h2.6M947 165.5h2.6M947 148.5h2.6M947 131.5h2.6M947 114.5h2.6M947 97.5h2.6M947 81.5h2.6M947 64.5h2.6M947 48.5h2.6M947 32.5h2.6M947 556.5h2.6M947 543.5h2.6M947 531.5h2.6M947 519.5h2.6M947 507.5h2.6M947 495.5h2.6M947 482.5h2.6M947 470.5h2.6M947 458.5h2.6M29.5 403.5h3M29.5 383.5h3M29.5 363.5h3M29.5 343.5h3M29.5 323.5h3M29.5 303.5h3" stroke="#8fb3bb" stroke-width="1" fill="none"/>
<path d="M33.5 424.2v1.3M33.5 435.5v1.3M33.5 576.2v1.3M36.9 424.2v1.3M36.9 435.5v1.3M36.9 576.2v1.3M40.2 424.2v1.3M40.2 435.5v1.3M40.2 576.2v1.3M43.6 424.2v1.3M43.6 435.5v1.3M43.6 576.2v1.3M46.9 424.2v1.3M46.9 435.5v1.3M46.9 576.2v1.3M50.3 424.2v1.3M50.3 435.5v1.3M50.3 576.2v1.3M53.6 424.2v1.3M53.6 435.5v1.3M53.6 576.2v1.3M57.0 424.2v1.3M57.0 435.5v1.3M57.0 576.2v1.3M60.4 424.2v1.3M60.4 435.5v1.3M60.4 576.2v1.3M63.7 424.2v1.3M63.7 435.5v1.3M63.7 576.2v1.3M67.1 424.2v1.3M67.1 435.5v1.3M67.1 576.2v1.3M70.4 424.2v1.3M70.4 435.5v1.3M70.4 576.2v1.3M73.8 424.2v1.3M73.8 435.5v1.3M73.8 576.2v1.3M77.2 424.2v1.3M77.2 435.5v1.3M77.2 576.2v1.3M80.5 424.2v1.3M80.5 435.5v1.3M80.5 576.2v1.3M83.9 424.2v1.3M83.9 435.5v1.3M83.9 576.2v1.3M87.2 424.2v1.3M87.2 435.5v1.3M87.2 576.2v1.3M90.6 424.2v1.3M90.6 435.5v1.3M90.6 576.2v1.3M94.0 424.2v1.3M94.0 435.5v1.3M94.0 576.2v1.3M97.3 424.2v1.3M97.3 435.5v1.3M97.3 576.2v1.3M100.7 424.2v1.3M100.7 435.5v1.3M100.7 576.2v1.3M104.0 424.2v1.3M104.0 435.5v1.3M104.0 576.2v1.3M107.4 424.2v1.3M107.4 435.5v1.3M107.4 576.2v1.3M110.7 424.2v1.3M110.7 435.5v1.3M110.7 576.2v1.3M114.1 424.2v1.3M114.1 435.5v1.3M114.1 576.2v1.3M117.5 424.2v1.3M117.5 435.5v1.3M117.5 576.2v1.3M120.8 424.2v1.3M120.8 435.5v1.3M120.8 576.2v1.3M124.2 424.2v1.3M124.2 435.5v1.3M124.2 576.2v1.3M127.5 424.2v1.3M127.5 435.5v1.3M127.5 576.2v1.3M130.9 424.2v1.3M130.9 435.5v1.3M130.9 576.2v1.3M134.3 424.2v1.3M134.3 435.5v1.3M134.3 576.2v1.3M137.6 424.2v1.3M137.6 435.5v1.3M137.6 576.2v1.3M141.0 424.2v1.3M141.0 435.5v1.3M141.0 576.2v1.3M144.3 424.2v1.3M144.3 435.5v1.3M144.3 576.2v1.3M147.7 424.2v1.3M147.7 435.5v1.3M147.7 576.2v1.3M151.0 424.2v1.3M151.0 435.5v1.3M151.0 576.2v1.3M154.4 424.2v1.3M154.4 435.5v1.3M154.4 576.2v1.3M157.8 424.2v1.3M157.8 435.5v1.3M157.8 576.2v1.3M161.1 424.2v1.3M161.1 435.5v1.3M161.1 576.2v1.3M164.5 424.2v1.3M164.5 435.5v1.3M164.5 576.2v1.3M167.8 424.2v1.3M167.8 435.5v1.3M167.8 576.2v1.3M171.2 424.2v1.3M171.2 435.5v1.3M171.2 576.2v1.3M174.6 424.2v1.3M174.6 435.5v1.3M174.6 576.2v1.3M177.9 424.2v1.3M177.9 435.5v1.3M177.9 576.2v1.3M181.3 424.2v1.3M181.3 435.5v1.3M181.3 576.2v1.3M184.6 424.2v1.3M184.6 435.5v1.3M184.6 576.2v1.3M188.0 424.2v1.3M188.0 435.5v1.3M188.0 576.2v1.3M191.4 424.2v1.3M191.4 435.5v1.3M191.4 576.2v1.3M194.7 424.2v1.3M194.7 435.5v1.3M194.7 576.2v1.3M198.1 424.2v1.3M198.1 435.5v1.3M198.1 576.2v1.3M201.4 424.2v1.3M201.4 435.5v1.3M201.4 576.2v1.3M204.8 424.2v1.3M204.8 435.5v1.3M204.8 576.2v1.3M208.1 424.2v1.3M208.1 435.5v1.3M208.1 576.2v1.3M211.5 424.2v1.3M211.5 435.5v1.3M211.5 576.2v1.3M214.9 424.2v1.3M214.9 435.5v1.3M214.9 576.2v1.3M218.2 424.2v1.3M218.2 435.5v1.3M218.2 576.2v1.3M221.6 424.2v1.3M221.6 435.5v1.3M221.6 576.2v1.3M224.9 424.2v1.3M224.9 435.5v1.3M224.9 576.2v1.3M228.3 424.2v1.3M228.3 435.5v1.3M228.3 576.2v1.3M231.7 424.2v1.3M231.7 435.5v1.3M231.7 576.2v1.3M235.0 424.2v1.3M235.0 435.5v1.3M235.0 576.2v1.3M238.4 424.2v1.3M238.4 435.5v1.3M238.4 576.2v1.3M241.7 424.2v1.3M241.7 435.5v1.3M241.7 576.2v1.3M245.1 424.2v1.3M245.1 435.5v1.3M245.1 576.2v1.3M248.4 424.2v1.3M248.4 435.5v1.3M248.4 576.2v1.3M251.8 424.2v1.3M251.8 435.5v1.3M251.8 576.2v1.3M255.2 424.2v1.3M255.2 435.5v1.3M255.2 576.2v1.3M258.5 424.2v1.3M258.5 435.5v1.3M258.5 576.2v1.3M261.9 424.2v1.3M261.9 435.5v1.3M261.9 576.2v1.3M265.2 424.2v1.3M265.2 435.5v1.3M265.2 576.2v1.3M268.6 424.2v1.3M268.6 435.5v1.3M268.6 576.2v1.3M272.0 424.2v1.3M272.0 435.5v1.3M272.0 576.2v1.3M275.3 424.2v1.3M275.3 435.5v1.3M275.3 576.2v1.3M278.7 424.2v1.3M278.7 435.5v1.3M278.7 576.2v1.3M282.0 424.2v1.3M282.0 435.5v1.3M282.0 576.2v1.3M285.4 424.2v1.3M285.4 435.5v1.3M285.4 576.2v1.3M288.8 424.2v1.3M288.8 435.5v1.3M288.8 576.2v1.3M292.1 424.2v1.3M292.1 435.5v1.3M292.1 576.2v1.3M295.5 424.2v1.3M295.5 435.5v1.3M295.5 576.2v1.3M298.8 424.2v1.3M298.8 435.5v1.3M298.8 576.2v1.3M302.2 424.2v1.3M302.2 435.5v1.3M302.2 576.2v1.3M305.5 424.2v1.3M305.5 435.5v1.3M305.5 576.2v1.3M308.9 424.2v1.3M308.9 435.5v1.3M308.9 576.2v1.3M312.3 424.2v1.3M312.3 435.5v1.3M312.3 576.2v1.3M315.6 424.2v1.3M315.6 435.5v1.3M315.6 576.2v1.3M319.0 424.2v1.3M319.0 435.5v1.3M319.0 576.2v1.3M322.3 424.2v1.3M322.3 435.5v1.3M322.3 576.2v1.3M325.7 424.2v1.3M325.7 435.5v1.3M325.7 576.2v1.3M329.1 424.2v1.3M329.1 435.5v1.3M329.1 576.2v1.3M332.4 424.2v1.3M332.4 435.5v1.3M332.4 576.2v1.3M335.8 424.2v1.3M335.8 435.5v1.3M335.8 576.2v1.3M339.1 424.2v1.3M339.1 435.5v1.3M339.1 576.2v1.3M342.5 424.2v1.3M342.5 435.5v1.3M342.5 576.2v1.3M345.8 424.2v1.3M345.8 435.5v1.3M345.8 576.2v1.3M349.2 424.2v1.3M349.2 435.5v1.3M349.2 576.2v1.3M352.6 424.2v1.3M352.6 435.5v1.3M352.6 576.2v1.3M355.9 424.2v1.3M355.9 435.5v1.3M355.9 576.2v1.3M359.3 424.2v1.3M359.3 435.5v1.3M359.3 576.2v1.3M362.6 424.2v1.3M362.6 435.5v1.3M362.6 576.2v1.3M366.0 424.2v1.3M366.0 435.5v1.3M366.0 576.2v1.3M369.4 424.2v1.3M369.4 435.5v1.3M369.4 576.2v1.3M372.7 424.2v1.3M372.7 435.5v1.3M372.7 576.2v1.3M376.1 424.2v1.3M376.1 435.5v1.3M376.1 576.2v1.3M379.4 424.2v1.3M379.4 435.5v1.3M379.4 576.2v1.3M382.8 424.2v1.3M382.8 435.5v1.3M382.8 576.2v1.3M386.1 424.2v1.3M386.1 435.5v1.3M386.1 576.2v1.3M389.5 424.2v1.3M389.5 435.5v1.3M389.5 576.2v1.3M392.9 424.2v1.3M392.9 435.5v1.3M392.9 576.2v1.3M396.2 424.2v1.3M396.2 435.5v1.3M396.2 576.2v1.3M399.6 424.2v1.3M399.6 435.5v1.3M399.6 576.2v1.3M402.9 424.2v1.3M402.9 435.5v1.3M402.9 576.2v1.3M406.3 424.2v1.3M406.3 435.5v1.3M406.3 576.2v1.3M409.7 424.2v1.3M409.7 435.5v1.3M409.7 576.2v1.3M413.0 424.2v1.3M413.0 435.5v1.3M413.0 576.2v1.3M416.4 424.2v1.3M416.4 435.5v1.3M416.4 576.2v1.3M419.7 424.2v1.3M419.7 435.5v1.3M419.7 576.2v1.3M423.1 424.2v1.3M423.1 435.5v1.3M423.1 576.2v1.3M426.5 424.2v1.3M426.5 435.5v1.3M426.5 576.2v1.3M429.8 424.2v1.3M429.8 435.5v1.3M429.8 576.2v1.3M433.2 424.2v1.3M433.2 435.5v1.3M433.2 576.2v1.3M436.5 424.2v1.3M436.5 435.5v1.3M436.5 576.2v1.3M439.9 424.2v1.3M439.9 435.5v1.3M439.9 576.2v1.3M443.2 424.2v1.3M443.2 435.5v1.3M443.2 576.2v1.3M446.6 424.2v1.3M446.6 435.5v1.3M446.6 576.2v1.3M450.0 424.2v1.3M450.0 435.5v1.3M450.0 576.2v1.3M453.3 424.2v1.3M453.3 435.5v1.3M453.3 576.2v1.3M456.7 424.2v1.3M456.7 435.5v1.3M456.7 576.2v1.3M460.0 424.2v1.3M460.0 435.5v1.3M460.0 576.2v1.3M463.4 424.2v1.3M463.4 435.5v1.3M463.4 576.2v1.3M466.8 424.2v1.3M466.8 435.5v1.3M466.8 576.2v1.3M470.1 424.2v1.3M470.1 435.5v1.3M470.1 576.2v1.3M473.5 424.2v1.3M473.5 435.5v1.3M473.5 576.2v1.3M476.8 424.2v1.3M476.8 435.5v1.3M476.8 576.2v1.3M480.2 424.2v1.3M480.2 435.5v1.3M480.2 576.2v1.3M483.5 424.2v1.3M483.5 435.5v1.3M483.5 576.2v1.3M486.9 424.2v1.3M486.9 435.5v1.3M486.9 576.2v1.3M490.3 424.2v1.3M490.3 435.5v1.3M490.3 576.2v1.3M493.6 424.2v1.3M493.6 435.5v1.3M493.6 576.2v1.3M497.0 424.2v1.3M497.0 435.5v1.3M497.0 576.2v1.3M500.3 424.2v1.3M500.3 435.5v1.3M500.3 576.2v1.3M503.7 424.2v1.3M503.7 435.5v1.3M503.7 576.2v1.3M507.1 424.2v1.3M507.1 435.5v1.3M507.1 576.2v1.3M510.4 424.2v1.3M510.4 435.5v1.3M510.4 576.2v1.3M513.8 424.2v1.3M513.8 435.5v1.3M513.8 576.2v1.3M517.1 424.2v1.3M517.1 435.5v1.3M517.1 576.2v1.3M520.5 424.2v1.3M520.5 435.5v1.3M520.5 576.2v1.3M523.9 424.2v1.3M523.9 435.5v1.3M523.9 576.2v1.3M527.2 424.2v1.3M527.2 435.5v1.3M527.2 576.2v1.3M530.6 424.2v1.3M530.6 435.5v1.3M530.6 576.2v1.3M533.9 424.2v1.3M533.9 435.5v1.3M533.9 576.2v1.3M537.3 424.2v1.3M537.3 435.5v1.3M537.3 576.2v1.3M540.6 424.2v1.3M540.6 435.5v1.3M540.6 576.2v1.3M544.0 424.2v1.3M544.0 435.5v1.3M544.0 576.2v1.3M547.4 424.2v1.3M547.4 435.5v1.3M547.4 576.2v1.3M550.7 424.2v1.3M550.7 435.5v1.3M550.7 576.2v1.3M554.1 424.2v1.3M554.1 435.5v1.3M554.1 576.2v1.3M557.4 424.2v1.3M557.4 435.5v1.3M557.4 576.2v1.3M560.8 424.2v1.3M560.8 435.5v1.3M560.8 576.2v1.3M564.2 424.2v1.3M564.2 435.5v1.3M564.2 576.2v1.3M567.5 424.2v1.3M567.5 435.5v1.3M567.5 576.2v1.3M570.9 424.2v1.3M570.9 435.5v1.3M570.9 576.2v1.3M574.2 424.2v1.3M574.2 435.5v1.3M574.2 576.2v1.3M577.6 424.2v1.3M577.6 435.5v1.3M577.6 576.2v1.3M580.9 424.2v1.3M580.9 435.5v1.3M580.9 576.2v1.3M584.3 424.2v1.3M584.3 435.5v1.3M584.3 576.2v1.3M587.7 424.2v1.3M587.7 435.5v1.3M587.7 576.2v1.3M591.0 424.2v1.3M591.0 435.5v1.3M591.0 576.2v1.3M594.4 424.2v1.3M594.4 435.5v1.3M594.4 576.2v1.3M597.7 424.2v1.3M597.7 435.5v1.3M597.7 576.2v1.3M601.1 424.2v1.3M601.1 435.5v1.3M601.1 576.2v1.3M604.5 424.2v1.3M604.5 435.5v1.3M604.5 576.2v1.3M607.8 424.2v1.3M607.8 435.5v1.3M607.8 576.2v1.3M611.2 424.2v1.3M611.2 435.5v1.3M611.2 576.2v1.3M614.5 424.2v1.3M614.5 435.5v1.3M614.5 576.2v1.3M617.9 424.2v1.3M617.9 435.5v1.3M617.9 576.2v1.3M621.3 424.2v1.3M621.3 435.5v1.3M621.3 576.2v1.3M624.6 424.2v1.3M624.6 435.5v1.3M624.6 576.2v1.3M628.0 424.2v1.3M628.0 435.5v1.3M628.0 576.2v1.3M631.3 424.2v1.3M631.3 435.5v1.3M631.3 576.2v1.3M634.7 424.2v1.3M634.7 435.5v1.3M634.7 576.2v1.3M638.0 424.2v1.3M638.0 435.5v1.3M638.0 576.2v1.3M641.4 424.2v1.3M641.4 435.5v1.3M641.4 576.2v1.3M644.8 424.2v1.3M644.8 435.5v1.3M644.8 576.2v1.3M648.1 424.2v1.3M648.1 435.5v1.3M648.1 576.2v1.3M651.5 424.2v1.3M651.5 435.5v1.3M651.5 576.2v1.3M654.8 424.2v1.3M654.8 435.5v1.3M654.8 576.2v1.3M658.2 424.2v1.3M658.2 435.5v1.3M658.2 576.2v1.3M661.6 424.2v1.3M661.6 435.5v1.3M661.6 576.2v1.3M664.9 424.2v1.3M664.9 435.5v1.3M664.9 576.2v1.3M668.3 424.2v1.3M668.3 435.5v1.3M668.3 576.2v1.3M671.6 424.2v1.3M671.6 435.5v1.3M671.6 576.2v1.3M675.0 424.2v1.3M675.0 435.5v1.3M675.0 576.2v1.3M678.3 424.2v1.3M678.3 435.5v1.3M678.3 576.2v1.3M681.7 424.2v1.3M681.7 435.5v1.3M681.7 576.2v1.3M685.1 424.2v1.3M685.1 435.5v1.3M685.1 576.2v1.3M688.4 424.2v1.3M688.4 435.5v1.3M688.4 576.2v1.3M691.8 424.2v1.3M691.8 435.5v1.3M691.8 576.2v1.3M695.1 424.2v1.3M695.1 435.5v1.3M695.1 576.2v1.3M698.5 424.2v1.3M698.5 435.5v1.3M698.5 576.2v1.3M701.9 424.2v1.3M701.9 435.5v1.3M701.9 576.2v1.3M705.2 424.2v1.3M705.2 435.5v1.3M705.2 576.2v1.3M708.6 424.2v1.3M708.6 435.5v1.3M708.6 576.2v1.3M711.9 424.2v1.3M711.9 435.5v1.3M711.9 576.2v1.3M715.3 424.2v1.3M715.3 435.5v1.3M715.3 576.2v1.3M718.7 424.2v1.3M718.7 435.5v1.3M718.7 576.2v1.3M722.0 424.2v1.3M722.0 435.5v1.3M722.0 576.2v1.3M725.4 424.2v1.3M725.4 435.5v1.3M725.4 576.2v1.3M728.7 424.2v1.3M728.7 435.5v1.3M728.7 576.2v1.3M732.1 424.2v1.3M732.1 435.5v1.3M732.1 576.2v1.3M735.4 424.2v1.3M735.4 435.5v1.3M735.4 576.2v1.3M738.8 424.2v1.3M738.8 435.5v1.3M738.8 576.2v1.3M742.2 424.2v1.3M742.2 435.5v1.3M742.2 576.2v1.3M745.5 424.2v1.3M745.5 435.5v1.3M745.5 576.2v1.3M748.9 424.2v1.3M748.9 435.5v1.3M748.9 576.2v1.3M752.2 424.2v1.3M752.2 435.5v1.3M752.2 576.2v1.3M755.6 424.2v1.3M755.6 435.5v1.3M755.6 576.2v1.3M759.0 424.2v1.3M759.0 435.5v1.3M759.0 576.2v1.3M762.3 424.2v1.3M762.3 435.5v1.3M762.3 576.2v1.3M765.7 424.2v1.3M765.7 435.5v1.3M765.7 576.2v1.3M769.0 424.2v1.3M769.0 435.5v1.3M769.0 576.2v1.3M772.4 424.2v1.3M772.4 435.5v1.3M772.4 576.2v1.3M775.7 424.2v1.3M775.7 435.5v1.3M775.7 576.2v1.3M779.1 424.2v1.3M779.1 435.5v1.3M779.1 576.2v1.3M782.5 424.2v1.3M782.5 435.5v1.3M782.5 576.2v1.3M785.8 424.2v1.3M785.8 435.5v1.3M785.8 576.2v1.3M789.2 424.2v1.3M789.2 435.5v1.3M789.2 576.2v1.3M792.5 424.2v1.3M792.5 435.5v1.3M792.5 576.2v1.3M795.9 424.2v1.3M795.9 435.5v1.3M795.9 576.2v1.3M799.3 424.2v1.3M799.3 435.5v1.3M799.3 576.2v1.3M802.6 424.2v1.3M802.6 435.5v1.3M802.6 576.2v1.3M806.0 424.2v1.3M806.0 435.5v1.3M806.0 576.2v1.3M809.3 424.2v1.3M809.3 435.5v1.3M809.3 576.2v1.3M812.7 424.2v1.3M812.7 435.5v1.3M812.7 576.2v1.3M816.1 424.2v1.3M816.1 435.5v1.3M816.1 576.2v1.3M819.4 424.2v1.3M819.4 435.5v1.3M819.4 576.2v1.3M822.8 424.2v1.3M822.8 435.5v1.3M822.8 576.2v1.3M826.1 424.2v1.3M826.1 435.5v1.3M826.1 576.2v1.3M829.5 424.2v1.3M829.5 435.5v1.3M829.5 576.2v1.3M832.8 424.2v1.3M832.8 435.5v1.3M832.8 576.2v1.3M836.2 424.2v1.3M836.2 435.5v1.3M836.2 576.2v1.3M839.6 424.2v1.3M839.6 435.5v1.3M839.6 576.2v1.3M842.9 424.2v1.3M842.9 435.5v1.3M842.9 576.2v1.3M846.3 424.2v1.3M846.3 435.5v1.3M846.3 576.2v1.3M849.6 424.2v1.3M849.6 435.5v1.3M849.6 576.2v1.3M853.0 424.2v1.3M853.0 435.5v1.3M853.0 576.2v1.3M856.4 424.2v1.3M856.4 435.5v1.3M856.4 576.2v1.3M859.7 424.2v1.3M859.7 435.5v1.3M859.7 576.2v1.3M863.1 424.2v1.3M863.1 435.5v1.3M863.1 576.2v1.3M866.4 424.2v1.3M866.4 435.5v1.3M866.4 576.2v1.3M869.8 424.2v1.3M869.8 435.5v1.3M869.8 576.2v1.3M873.1 424.2v1.3M873.1 435.5v1.3M873.1 576.2v1.3M876.5 424.2v1.3M876.5 435.5v1.3M876.5 576.2v1.3M879.9 424.2v1.3M879.9 435.5v1.3M879.9 576.2v1.3M883.2 424.2v1.3M883.2 435.5v1.3M883.2 576.2v1.3M886.6 424.2v1.3M886.6 435.5v1.3M886.6 576.2v1.3M889.9 424.2v1.3M889.9 435.5v1.3M889.9 576.2v1.3M893.3 424.2v1.3M893.3 435.5v1.3M893.3 576.2v1.3M896.7 424.2v1.3M896.7 435.5v1.3M896.7 576.2v1.3M900.0 424.2v1.3M900.0 435.5v1.3M900.0 576.2v1.3M903.4 424.2v1.3M903.4 435.5v1.3M903.4 576.2v1.3M906.7 424.2v1.3M906.7 435.5v1.3M906.7 576.2v1.3M910.1 424.2v1.3M910.1 435.5v1.3M910.1 576.2v1.3M913.5 424.2v1.3M913.5 435.5v1.3M913.5 576.2v1.3M916.8 424.2v1.3M916.8 435.5v1.3M916.8 576.2v1.3M920.2 424.2v1.3M920.2 435.5v1.3M920.2 576.2v1.3M923.5 424.2v1.3M923.5 435.5v1.3M923.5 576.2v1.3M926.9 424.2v1.3M926.9 435.5v1.3M926.9 576.2v1.3M930.2 424.2v1.3M930.2 435.5v1.3M930.2 576.2v1.3M933.6 424.2v1.3M933.6 435.5v1.3M933.6 576.2v1.3M937.0 424.2v1.3M937.0 435.5v1.3M937.0 576.2v1.3M940.3 424.2v1.3M940.3 435.5v1.3M940.3 576.2v1.3M943.7 424.2v1.3M943.7 435.5v1.3M943.7 576.2v1.3" stroke="#8fb3bb" stroke-width="1.2" fill="none"/>
<path d="M36.9 424v1.6M36.9 435.2v1.6M36.9 576v1.6M50.3 424v1.6M50.3 435.2v1.6M50.3 576v1.6M67.1 424v1.6M67.1 435.2v1.6M67.1 576v1.6M83.9 424v1.6M83.9 435.2v1.6M83.9 576v1.6M100.7 424v1.6M100.7 435.2v1.6M100.7 576v1.6M117.5 424v1.6M117.5 435.2v1.6M117.5 576v1.6M130.9 424v1.6M130.9 435.2v1.6M130.9 576v1.6M147.7 424v1.6M147.7 435.2v1.6M147.7 576v1.6M164.5 424v1.6M164.5 435.2v1.6M164.5 576v1.6M181.3 424v1.6M181.3 435.2v1.6M181.3 576v1.6M198.1 424v1.6M198.1 435.2v1.6M198.1 576v1.6M228.3 424v1.6M228.3 435.2v1.6M228.3 576v1.6M245.1 424v1.6M245.1 435.2v1.6M245.1 576v1.6M261.9 424v1.6M261.9 435.2v1.6M261.9 576v1.6M295.5 424v1.6M295.5 435.2v1.6M295.5 576v1.6M312.3 424v1.6M312.3 435.2v1.6M312.3 576v1.6M329.1 424v1.6M329.1 435.2v1.6M329.1 576v1.6M345.8 424v1.6M345.8 435.2v1.6M345.8 576v1.6M359.3 424v1.6M359.3 435.2v1.6M359.3 576v1.6M376.1 424v1.6M376.1 435.2v1.6M376.1 576v1.6M392.9 424v1.6M392.9 435.2v1.6M392.9 576v1.6M406.3 424v1.6M406.3 435.2v1.6M406.3 576v1.6M436.5 424v1.6M436.5 435.2v1.6M436.5 576v1.6M453.3 424v1.6M453.3 435.2v1.6M453.3 576v1.6M470.1 424v1.6M470.1 435.2v1.6M470.1 576v1.6M486.9 424v1.6M486.9 435.2v1.6M486.9 576v1.6M503.7 424v1.6M503.7 435.2v1.6M503.7 576v1.6M520.5 424v1.6M520.5 435.2v1.6M520.5 576v1.6M537.3 424v1.6M537.3 435.2v1.6M537.3 576v1.6M554.1 424v1.6M554.1 435.2v1.6M554.1 576v1.6M570.9 424v1.6M570.9 435.2v1.6M570.9 576v1.6M584.3 424v1.6M584.3 435.2v1.6M584.3 576v1.6M601.1 424v1.6M601.1 435.2v1.6M601.1 576v1.6M617.9 424v1.6M617.9 435.2v1.6M617.9 576v1.6M651.5 424v1.6M651.5 435.2v1.6M651.5 576v1.6M668.3 424v1.6M668.3 435.2v1.6M668.3 576v1.6M685.1 424v1.6M685.1 435.2v1.6M685.1 576v1.6M701.9 424v1.6M701.9 435.2v1.6M701.9 576v1.6M718.7 424v1.6M718.7 435.2v1.6M718.7 576v1.6M735.4 424v1.6M735.4 435.2v1.6M735.4 576v1.6M752.2 424v1.6M752.2 435.2v1.6M752.2 576v1.6M765.7 424v1.6M765.7 435.2v1.6M765.7 576v1.6M782.5 424v1.6M782.5 435.2v1.6M782.5 576v1.6M799.3 424v1.6M799.3 435.2v1.6M799.3 576v1.6M816.1 424v1.6M816.1 435.2v1.6M816.1 576v1.6M832.8 424v1.6M832.8 435.2v1.6M832.8 576v1.6M859.7 424v1.6M859.7 435.2v1.6M859.7 576v1.6M876.5 424v1.6M876.5 435.2v1.6M876.5 576v1.6M889.9 424v1.6M889.9 435.2v1.6M889.9 576v1.6M906.7 424v1.6M906.7 435.2v1.6M906.7 576v1.6M923.5 424v1.6M923.5 435.2v1.6M923.5 576v1.6M940.3 424v1.6M940.3 435.2v1.6M940.3 576v1.6M73.8 424v2.4M73.8 434.5v2.4M73.8 576v2.4M137.6 424v2.4M137.6 434.5v2.4M137.6 576v2.4M214.9 424v2.4M214.9 434.5v2.4M214.9 576v2.4M278.7 424v2.4M278.7 434.5v2.4M278.7 576v2.4M352.6 424v2.4M352.6 434.5v2.4M352.6 576v2.4M423.1 424v2.4M423.1 434.5v2.4M423.1 576v2.4M490.3 424v2.4M490.3 434.5v2.4M490.3 576v2.4M567.5 424v2.4M567.5 434.5v2.4M567.5 576v2.4M634.7 424v2.4M634.7 434.5v2.4M634.7 576v2.4M708.6 424v2.4M708.6 434.5v2.4M708.6 576v2.4M779.1 424v2.4M779.1 434.5v2.4M779.1 576v2.4M846.3 424v2.4M846.3 434.5v2.4M846.3 576v2.4M916.8 424v2.4M916.8 434.5v2.4M916.8 576v2.4" stroke="#7fa3ab" stroke-width="1.3" fill="none"/>
<path d="M36.9 589.3v1M50.3 589.3v1M67.1 589.3v1M83.9 589.3v1M100.7 589.3v1M117.5 589.3v1M130.9 589.3v1M147.7 589.3v1M164.5 589.3v1M181.3 589.3v1M198.1 589.3v1M228.3 589.3v1M245.1 589.3v1M261.9 589.3v1M295.5 589.3v1M312.3 589.3v1M329.1 589.3v1M345.8 589.3v1M359.3 589.3v1M376.1 589.3v1M392.9 589.3v1M406.3 589.3v1M436.5 589.3v1M453.3 589.3v1M470.1 589.3v1M486.9 589.3v1M503.7 589.3v1M520.5 589.3v1M537.3 589.3v1M554.1 589.3v1M570.9 589.3v1M584.3 589.3v1M601.1 589.3v1M617.9 589.3v1M651.5 589.3v1M668.3 589.3v1M685.1 589.3v1M701.9 589.3v1M718.7 589.3v1M735.4 589.3v1M752.2 589.3v1M765.7 589.3v1M782.5 589.3v1M799.3 589.3v1M816.1 589.3v1M832.8 589.3v1M859.7 589.3v1M876.5 589.3v1M889.9 589.3v1M906.7 589.3v1M923.5 589.3v1M940.3 589.3v1M73.8 589.3v1M137.6 589.3v1M214.9 589.3v1M278.7 589.3v1M352.6 589.3v1M423.1 589.3v1M490.3 589.3v1M567.5 589.3v1M634.7 589.3v1M708.6 589.3v1M779.1 589.3v1M846.3 589.3v1M916.8 589.3v1" stroke="#c8c8c8" stroke-width="1.2" fill="none"/>
<text x="950.3" y="410.0" font-size="9.9" text-anchor="start" fill="#000" textLength="23" lengthAdjust="spacingAndGlyphs">3800</text>
<text x="950.3" y="391.6" font-size="9.9" text-anchor="start" fill="#000" textLength="23" lengthAdjust="spacingAndGlyphs">3850</text>
<text x="950.3" y="371.8" font-size="9.9" text-anchor="start" fill="#000" textLength="23" lengthAdjust="spacingAndGlyphs">3900</text>
<text x="950.3" y="352.1" font-size="9.9" text-anchor="start" fill="#000" textLength="23" lengthAdjust="spacingAndGlyphs">3950</text>
<text x="950.3" y="332.7" font-size="9.9" text-anchor="start" fill="#000" textLength="23" lengthAdjust="spacingAndGlyphs">4000</text>
<text x="950.3" y="313.6" font-size="9.9" text-anchor="start" fill="#000" textLength="23" lengthAdjust="spacingAndGlyphs">4050</text>
<text x="950.3" y="294.7" font-size="9.9" text-anchor="start" fill="#000" textLength="23" lengthAdjust="spacingAndGlyphs">4100</text>
<text x="950.3" y="276.0" font-size="9.9" text-anchor="start" fill="#000" textLength="23" lengthAdjust="spacingAndGlyphs">4150</text>
<text x="950.3" y="257.5" font-size="9.9" text-anchor="start" fill="#000" textLength="23" lengthAdjust="spacingAndGlyphs">4200</text>
<text x="950.3" y="239.3" font-size="9.9" text-anchor="start" fill="#000" textLength="23" lengthAdjust="spacingAndGlyphs">4250</text>
<text x="950.3" y="221.2" font-size="9.9" text-anchor="start" fill="#000" textLength="23" lengthAdjust="spacingAndGlyphs">4300</text>
<text x="950.3" y="203.4" font-size="9.9" text-anchor="start" fill="#000" textLength="23" lengthAdjust="spacingAndGlyphs">4350</text>
<text x="950.3" y="185.8" font-size="9.9" text-anchor="start" fill="#000" textLength="23" lengthAdjust="spacingAndGlyphs">4400</text>
<text x="950.3" y="168.4" font-size="9.9" text-anchor="start" fill="#000" textLength="23" lengthAdjust="spacingAndGlyphs">4450</text>
<text x="950.3" y="151.2" font-size="9.9" text-anchor="start" fill="#000" textLength="23" lengthAdjust="spacingAndGlyphs">4500</text>
<text x="950.3" y="134.1" font-size="9.9" text-anchor="start" fill="#000" textLength="23" lengthAdjust="spacingAndGlyphs">4550</text>
<text x="950.3" y="117.3" font-size="9.9" text-anchor="start" fill="#000" textLength="23" lengthAdjust="spacingAndGlyphs">4600</text>
<text x="950.3" y="99.6" font-size="9.9" text-anchor="start" fill="#000" textLength="23" lengthAdjust="spacingAndGlyphs">4650</text>
<text x="950.3" y="83.1" font-size="9.9" text-anchor="start" fill="#000" textLength="23" lengthAdjust="spacingAndGlyphs">4700</text>
<text x="950.3" y="66.8" font-size="9.9" text-anchor="start" fill="#000" textLength="23" lengthAdjust="spacingAndGlyphs">4750</text>
<text x="950.3" y="50.7" font-size="9.9" text-anchor="start" fill="#000" textLength="23" lengthAdjust="spacingAndGlyphs">4800</text>
<text x="950.3" y="34.7" font-size="9.9" text-anchor="start" fill="#000" textLength="23" lengthAdjust="spacingAndGlyphs">4850</text>
<text x="950.3" y="461.6" font-size="9.9" text-anchor="start" fill="#000" textLength="11.6" lengthAdjust="spacingAndGlyphs">90</text>
<text x="950.3" y="486.1" font-size="9.9" text-anchor="start" fill="#000" textLength="11.6" lengthAdjust="spacingAndGlyphs">70</text>
<text x="950.3" y="510.5" font-size="9.9" text-anchor="start" fill="#000" textLength="11.6" lengthAdjust="spacingAndGlyphs">50</text>
<text x="950.3" y="534.9" font-size="9.9" text-anchor="start" fill="#000" textLength="11.6" lengthAdjust="spacingAndGlyphs">30</text>
<text x="950.3" y="559.4" font-size="9.9" text-anchor="start" fill="#000" textLength="11.6" lengthAdjust="spacingAndGlyphs">10</text>
<text x="29" y="406.49999999999994" font-size="9" text-anchor="end" fill="#000" textLength="11.5" lengthAdjust="spacingAndGlyphs">1B</text>
<text x="29" y="386.4" font-size="9" text-anchor="end" fill="#000" textLength="11.5" lengthAdjust="spacingAndGlyphs">2B</text>
<text x="29" y="366.29999999999995" font-size="9" text-anchor="end" fill="#000" textLength="11.5" lengthAdjust="spacingAndGlyphs">3B</text>
<text x="29" y="346.19999999999993" font-size="9" text-anchor="end" fill="#000" textLength="11.5" lengthAdjust="spacingAndGlyphs">4B</text>
<text x="29" y="326.09999999999997" font-size="9" text-anchor="end" fill="#000" textLength="11.5" lengthAdjust="spacingAndGlyphs">5B</text>
<text x="29" y="305.99999999999994" font-size="9" text-anchor="end" fill="#000" textLength="11.5" lengthAdjust="spacingAndGlyphs">6B</text>
<text x="73.8" y="434.2" font-size="9.2" text-anchor="middle" fill="#000" textLength="16.5" lengthAdjust="spacingAndGlyphs" stroke="#000" stroke-width="0.18">Feb</text>
<text x="73.8" y="585.8" font-size="9.2" text-anchor="middle" fill="#000" textLength="16.5" lengthAdjust="spacingAndGlyphs" stroke="#000" stroke-width="0.18">Feb</text>
<text x="137.6" y="434.2" font-size="9.2" text-anchor="middle" fill="#000" textLength="17.5" lengthAdjust="spacingAndGlyphs" stroke="#000" stroke-width="0.18">Mar</text>
<text x="137.6" y="585.8" font-size="9.2" text-anchor="middle" fill="#000" textLength="17.5" lengthAdjust="spacingAndGlyphs" stroke="#000" stroke-width="0.18">Mar</text>
<text x="214.9" y="434.2" font-size="9.2" text-anchor="middle" fill="#000" textLength="16.5" lengthAdjust="spacingAndGlyphs" stroke="#000" stroke-width="0.18">Apr</text>
<text x="214.9" y="585.8" font-size="9.2" text-anchor="middle" fill="#000" textLength="16.5" lengthAdjust="spacingAndGlyphs" stroke="#000" stroke-width="0.18">Apr</text>
<text x="278.7" y="434.2" font-size="9.2" text-anchor="middle" fill="#000" textLength="18.5" lengthAdjust="spacingAndGlyphs" stroke="#000" stroke-width="0.18">May</text>
<text x="278.7" y="585.8" font-size="9.2" text-anchor="middle" fill="#000" textLength="18.5" lengthAdjust="spacingAndGlyphs" stroke="#000" stroke-width="0.18">May</text>
<text x="352.6" y="434.2" font-size="9.2" text-anchor="middle" fill="#000" textLength="16.5" lengthAdjust="spacingAndGlyphs" stroke="#000" stroke-width="0.18">Jun</text>
<text x="352.6" y="585.8" font-size="9.2" text-anchor="middle" fill="#000" textLength="16.5" lengthAdjust="spacingAndGlyphs" stroke="#000" stroke-width="0.18">Jun</text>
<text x="423.1" y="434.2" font-size="9.2" text-anchor="middle" fill="#000" textLength="14" lengthAdjust="spacingAndGlyphs" stroke="#000" stroke-width="0.18">Jul</text>
<text x="423.1" y="585.8" font-size="9.2" text-anchor="middle" fill="#000" textLength="14" lengthAdjust="spacingAndGlyphs" stroke="#000" stroke-width="0.18">Jul</text>
<text x="490.3" y="434.2" font-size="9.2" text-anchor="middle" fill="#000" textLength="18" lengthAdjust="spacingAndGlyphs" stroke="#000" stroke-width="0.18">Aug</text>
<text x="490.3" y="585.8" font-size="9.2" text-anchor="middle" fill="#000" textLength="18" lengthAdjust="spacingAndGlyphs" stroke="#000" stroke-width="0.18">Aug</text>
<text x="567.5" y="434.2" font-size="9.2" text-anchor="middle" fill="#000" textLength="17.5" lengthAdjust="spacingAndGlyphs" stroke="#000" stroke-width="0.18">Sep</text>
<text x="567.5" y="585.8" font-size="9.2" text-anchor="middle" fill="#000" textLength="17.5" lengthAdjust="spacingAndGlyphs" stroke="#000" stroke-width="0.18">Sep</text>
<text x="634.7" y="434.2" font-size="9.2" text-anchor="middle" fill="#000" textLength="16.5" lengthAdjust="spacingAndGlyphs" stroke="#000" stroke-width="0.18">Oct</text>
<text x="634.7" y="585.8" font-size="9.2" text-anchor="middle" fill="#000" textLength="16.5" lengthAdjust="spacingAndGlyphs" stroke="#000" stroke-width="0.18">Oct</text>
<text x="708.6" y="434.2" font-size="9.2" text-anchor="middle" fill="#000" textLength="17.5" lengthAdjust="spacingAndGlyphs" stroke="#000" stroke-width="0.18">Nov</text>
<text x="708.6" y="585.8" font-size="9.2" text-anchor="middle" fill="#000" textLength="17.5" lengthAdjust="spacingAndGlyphs" stroke="#000" stroke-width="0.18">Nov</text>
<text x="779.1" y="434.2" font-size="9.2" text-anchor="middle" fill="#000" textLength="17.5" lengthAdjust="spacingAndGlyphs" stroke="#000" stroke-width="0.18">Dec</text>
<text x="779.1" y="585.8" font-size="9.2" text-anchor="middle" fill="#000" textLength="17.5" lengthAdjust="spacingAndGlyphs" stroke="#000" stroke-width="0.18">Dec</text>
<text x="845.6" y="434.5" font-size="10.8" text-anchor="middle" fill="#000" font-weight="bold" textLength="24" lengthAdjust="spacingAndGlyphs">2024</text>
<text x="845.6" y="586.0999999999999" font-size="10.8" text-anchor="middle" fill="#000" font-weight="bold" textLength="24" lengthAdjust="spacingAndGlyphs">2024</text>
<text x="916.8" y="434.2" font-size="9.2" text-anchor="middle" fill="#000" textLength="16.5" lengthAdjust="spacingAndGlyphs" stroke="#000" stroke-width="0.18">Feb</text>
<text x="916.8" y="585.8" font-size="9.2" text-anchor="middle" fill="#000" textLength="16.5" lengthAdjust="spacingAndGlyphs" stroke="#000" stroke-width="0.18">Feb</text>
<text x="33" y="13.6" font-size="13" text-anchor="start" fill="#000" font-weight="bold" textLength="32.5" lengthAdjust="spacingAndGlyphs">$SPX</text>
<text x="69.5" y="13.4" font-size="10.8" text-anchor="start" fill="#000" textLength="123" lengthAdjust="spacingAndGlyphs">S&amp;P 500 Large Cap Index</text>
<text x="197.3" y="13.2" font-size="8.6" text-anchor="start" fill="#000" textLength="23.3" lengthAdjust="spacingAndGlyphs">INDX</text>
<text x="32.7" y="26.2" font-size="10.3" text-anchor="start" fill="#000" textLength="58" lengthAdjust="spacingAndGlyphs">12-Jan-2024</text>
<text x="856.5" y="13.2" font-size="11" text-anchor="start" fill="#585858" textLength="90" lengthAdjust="spacingAndGlyphs">© StockCharts.com</text>
<text x="463.7" y="25.8" font-size="10.5" text-anchor="start" fill="#000" font-weight="bold" textLength="28.3" lengthAdjust="spacingAndGlyphs">Open</text>
<text x="495.8" y="25.8" font-size="10.5" text-anchor="start" fill="#000" textLength="38.2" lengthAdjust="spacingAndGlyphs">4791.18</text>
<text x="540.5" y="25.8" font-size="10.5" text-anchor="start" fill="#000" font-weight="bold" textLength="24.3" lengthAdjust="spacingAndGlyphs">High</text>
<text x="567.9" y="25.8" font-size="10.5" text-anchor="start" fill="#000" textLength="38.2" lengthAdjust="spacingAndGlyphs">4802.40</text>
<text x="612.6" y="25.8" font-size="10.5" text-anchor="start" fill="#000" font-weight="bold" textLength="23" lengthAdjust="spacingAndGlyphs">Low</text>
<text x="639.6" y="25.8" font-size="10.5" text-anchor="start" fill="#000" textLength="38.2" lengthAdjust="spacingAndGlyphs">4768.98</text>
<text x="684.7" y="25.8" font-size="10.5" text-anchor="start" fill="#000" font-weight="bold" textLength="31.1" lengthAdjust="spacingAndGlyphs">Close</text>
<text x="719.9" y="25.8" font-size="10.5" text-anchor="start" fill="#000" textLength="38.2" lengthAdjust="spacingAndGlyphs">4783.83</text>
<text x="764.9" y="25.8" font-size="10.5" text-anchor="start" fill="#000" font-weight="bold" textLength="42.3" lengthAdjust="spacingAndGlyphs">Volume</text>
<text x="810.6" y="25.8" font-size="10.5" text-anchor="start" fill="#000" textLength="21" lengthAdjust="spacingAndGlyphs">2.2B</text>
<text x="838.7" y="25.8" font-size="10.5" text-anchor="start" fill="#000" font-weight="bold" textLength="21" lengthAdjust="spacingAndGlyphs">Chg</text>
<text x="864" y="25.8" font-size="10.5" text-anchor="start" fill="#000" textLength="71.8" lengthAdjust="spacingAndGlyphs">+3.59 (+0.08%)</text>
<path d="M938.8 25.3L942.6 20.5L946.4 25.3z" fill="#2e6e2e"/>
<path d="M36.5 31.5v9M35.3 33h2.6v5.5h-2.6zM40 32v8.5M43.3 31.5v9" stroke="#000" stroke-width="1" fill="none"/><rect x="38.7" y="33.5" width="2.6" height="5" fill="#000"/><rect x="42.1" y="33" width="2.4" height="5.5" fill="#fff" stroke="#000" stroke-width="0.9"/>
<text x="47.4" y="39.5" font-size="10.3" text-anchor="start" fill="#000" textLength="118.4" lengthAdjust="spacingAndGlyphs" letter-spacing="0.5">$SPX (Daily) 4783.83</text>
<rect x="35.2" y="45.5" width="8.6" height="1.8" fill="#00008c"/>
<text x="45" y="49.8" font-size="9.4" text-anchor="start" fill="#00008c" textLength="69.4" lengthAdjust="spacingAndGlyphs">MA(50) 4601.27</text>
<rect x="35.2" y="56.6" width="8.6" height="1.8" fill="#e80000"/>
<text x="45" y="60.9" font-size="9.4" text-anchor="start" fill="#e00000" textLength="74.5" lengthAdjust="spacingAndGlyphs">MA(100) 4477.31</text>
<rect x="35.2" y="67.8" width="8.6" height="1.8" fill="#006400"/>
<text x="45" y="72.10000000000001" font-size="9.4" text-anchor="start" fill="#006400" textLength="74.5" lengthAdjust="spacingAndGlyphs">MA(200) 4389.09</text>
<rect x="35.2" y="79.0" width="8.6" height="1.8" fill="#ff00ff"/>
<text x="45" y="83.30000000000001" font-size="9.4" text-anchor="start" fill="#ff00ff" textLength="81.2" lengthAdjust="spacingAndGlyphs">EMA(165) 4440.24</text>
<path d="M36.2 92.5v-3.5M38.5 92.5v-6.5M40.8 92.5v-5M43.1 92.5v-4" stroke="#c8b070" stroke-width="1.1" fill="none"/><path d="M38.5 92.5v-6.5M43.1 92.5v-4" stroke="#68a0c0" stroke-width="1.1" fill="none"/>
<text x="45.7" y="93.1" font-size="9.4" text-anchor="start" fill="#2a7ab8" textLength="94.7" lengthAdjust="spacingAndGlyphs">Volume 2,213,662,208</text>
<path d="M35 447.7L37.5 441.5L39.3 444.5L41 439.5L43.3 447.7z" fill="#7ab8b0" stroke="none"/><path d="M35 447.7L37.5 441.5L39.3 444.5L41 439.5L43.3 446" stroke="#2828d0" stroke-width="1.1" fill="none"/>
<text x="47.7" y="447.8" font-size="10.3" text-anchor="start" fill="#000" textLength="79" lengthAdjust="spacingAndGlyphs" letter-spacing="0.6">RSI(14) 65.03</text>
<path d="M39.4 380.7L43.6 374.5L47.8 380.7z" fill="#d2efef"/>
<rect x="24.8" y="380.7" width="36.4" height="10.2" fill="#d6f1f1" stroke="#a9c9cf" stroke-width="0.9"/>
<text x="43.0" y="389.3" font-size="9.3" text-anchor="middle" fill="#000" textLength="32.5" lengthAdjust="spacingAndGlyphs" stroke="#000" stroke-width="0.2">3885.54</text>
<path d="M73.0 250.6L77.2 255.0L81.4 250.6z" fill="#d2efef"/>
<rect x="58.4" y="240.4" width="36.4" height="10.2" fill="#d6f1f1" stroke="#a9c9cf" stroke-width="0.9"/>
<text x="76.6" y="249.0" font-size="9.3" text-anchor="middle" fill="#000" textLength="32.5" lengthAdjust="spacingAndGlyphs" stroke="#000" stroke-width="0.2">4195.44</text>
<path d="M143.5 294.2L147.7 298.6L151.9 294.2z" fill="#d2efef"/>
<rect x="128.9" y="284.0" width="36.4" height="10.2" fill="#d6f1f1" stroke="#a9c9cf" stroke-width="0.9"/>
<text x="147.1" y="292.6" font-size="9.3" text-anchor="middle" fill="#000" textLength="32.5" lengthAdjust="spacingAndGlyphs" stroke="#000" stroke-width="0.2">4078.49</text>
<path d="M160.3 411.4L164.5 405.2L168.7 411.4z" fill="#d2efef"/>
<rect x="144.9" y="411.4" width="36.4" height="10.2" fill="#d6f1f1" stroke="#a9c9cf" stroke-width="0.9"/>
<text x="163.1" y="420.0" font-size="9.3" text-anchor="middle" fill="#000" textLength="32.5" lengthAdjust="spacingAndGlyphs" stroke="#000" stroke-width="0.2">3808.86</text>
<path d="M183.8 309.0L188.0 313.4L192.2 309.0z" fill="#d2efef"/>
<rect x="168.9" y="298.8" width="36.4" height="10.2" fill="#d6f1f1" stroke="#a9c9cf" stroke-width="0.9"/>
<text x="187.1" y="307.4" font-size="9.3" text-anchor="middle" fill="#000" textLength="32.5" lengthAdjust="spacingAndGlyphs" stroke="#000" stroke-width="0.2">4039.49</text>
<path d="M190.5 371.3L194.7 365.1L198.9 371.3z" fill="#d2efef"/>
<rect x="175.9" y="371.3" width="36.4" height="10.2" fill="#d6f1f1" stroke="#a9c9cf" stroke-width="0.9"/>
<text x="194.1" y="379.9" font-size="9.3" text-anchor="middle" fill="#000" textLength="32.5" lengthAdjust="spacingAndGlyphs" stroke="#000" stroke-width="0.2">3909.16</text>
<path d="M274.5 253.7L278.7 258.1L282.9 253.7z" fill="#d2efef"/>
<rect x="259.9" y="243.5" width="36.4" height="10.2" fill="#d6f1f1" stroke="#a9c9cf" stroke-width="0.9"/>
<text x="278.1" y="252.1" font-size="9.3" text-anchor="middle" fill="#000" textLength="32.5" lengthAdjust="spacingAndGlyphs" stroke="#000" stroke-width="0.2">4186.92</text>
<path d="M284.6 317.4L288.8 311.2L293.0 317.4z" fill="#d2efef"/>
<rect x="270.0" y="317.4" width="36.4" height="10.2" fill="#d6f1f1" stroke="#a9c9cf" stroke-width="0.9"/>
<text x="288.2" y="326.0" font-size="9.3" text-anchor="middle" fill="#000" textLength="32.5" lengthAdjust="spacingAndGlyphs" stroke="#000" stroke-width="0.2">4048.28</text>
<path d="M476.0 106.3L480.2 110.7L484.4 106.3z" fill="#d2efef"/>
<rect x="461.4" y="96.1" width="36.4" height="10.2" fill="#d6f1f1" stroke="#a9c9cf" stroke-width="0.9"/>
<text x="479.6" y="104.7" font-size="9.3" text-anchor="middle" fill="#000" textLength="32.5" lengthAdjust="spacingAndGlyphs" stroke="#000" stroke-width="0.2">4607.07</text>
<path d="M529.7 211.8L533.9 205.6L538.1 211.8z" fill="#d2efef"/>
<rect x="515.1" y="211.8" width="36.4" height="10.2" fill="#d6f1f1" stroke="#a9c9cf" stroke-width="0.9"/>
<text x="533.3" y="220.4" font-size="9.3" text-anchor="middle" fill="#000" textLength="32.5" lengthAdjust="spacingAndGlyphs" stroke="#000" stroke-width="0.2">4335.31</text>
<path d="M563.3 128.5L567.5 132.9L571.7 128.5z" fill="#d2efef"/>
<rect x="548.7" y="118.3" width="36.4" height="10.2" fill="#d6f1f1" stroke="#a9c9cf" stroke-width="0.9"/>
<text x="566.9" y="126.9" font-size="9.3" text-anchor="middle" fill="#000" textLength="32.5" lengthAdjust="spacingAndGlyphs" stroke="#000" stroke-width="0.2">4541.25</text>
<path d="M633.8 254.7L638.0 248.5L642.2 254.7z" fill="#d2efef"/>
<rect x="619.2" y="254.7" width="36.4" height="10.2" fill="#d6f1f1" stroke="#a9c9cf" stroke-width="0.9"/>
<text x="637.4" y="263.3" font-size="9.3" text-anchor="middle" fill="#000" textLength="32.5" lengthAdjust="spacingAndGlyphs" stroke="#000" stroke-width="0.2">4216.45</text>
<path d="M667.4 179.5L671.6 183.9L675.8 179.5z" fill="#d2efef"/>
<rect x="652.8" y="169.3" width="36.4" height="10.2" fill="#d6f1f1" stroke="#a9c9cf" stroke-width="0.9"/>
<text x="671.0" y="177.9" font-size="9.3" text-anchor="middle" fill="#000" textLength="32.5" lengthAdjust="spacingAndGlyphs" stroke="#000" stroke-width="0.2">4393.57</text>
<path d="M694.3 296.4L698.5 290.2L702.7 296.4z" fill="#d2efef"/>
<rect x="679.7" y="296.4" width="36.4" height="10.2" fill="#d6f1f1" stroke="#a9c9cf" stroke-width="0.9"/>
<text x="697.9" y="305.0" font-size="9.3" text-anchor="middle" fill="#000" textLength="32.5" lengthAdjust="spacingAndGlyphs" stroke="#000" stroke-width="0.2">4103.78</text>
<path d="M944.6 378.5L948.4 373.6H998.4V383.4H948.4z" fill="#d2f3f3" stroke="#efe3a0" stroke-width="1" stroke-linejoin="miter"/>
<text x="949.4" y="382.2" font-size="10.3" text-anchor="start" fill="#000" textLength="41" lengthAdjust="spacingAndGlyphs">2213662</text>
<path d="M944.6 186.0L948.4 181.1H989.1V190.9H948.4z" fill="#e4ffff" stroke="#0a6a0a" stroke-width="1.4" stroke-linejoin="miter"/>
<text x="949.4" y="189.7" font-size="10.3" text-anchor="start" fill="#000" textLength="37.6" lengthAdjust="spacingAndGlyphs">4389.09</text>
<path d="M944.6 168.2L948.4 163.3H989.1V173.1H948.4z" fill="#e4ffff" stroke="#ff00ff" stroke-width="1.4" stroke-linejoin="miter"/>
<text x="949.4" y="171.9" font-size="10.3" text-anchor="start" fill="#000" textLength="37.6" lengthAdjust="spacingAndGlyphs">4440.24</text>
<path d="M944.6 155.4L948.4 150.5H989.1V160.3H948.4z" fill="#e4ffff" stroke="#e00000" stroke-width="1.4" stroke-linejoin="miter"/>
<text x="949.4" y="159.1" font-size="10.3" text-anchor="start" fill="#000" textLength="37.6" lengthAdjust="spacingAndGlyphs">4477.31</text>
<path d="M944.6 112.9L948.4 108.0H989.1V117.8H948.4z" fill="#e4ffff" stroke="#00008c" stroke-width="1.4" stroke-linejoin="miter"/>
<text x="949.4" y="116.6" font-size="10.3" text-anchor="start" fill="#000" textLength="37.6" lengthAdjust="spacingAndGlyphs">4601.27</text>
<path d="M944.6 52.6L948.4 47.1H989.0V58.1H948.4z" fill="#cffafa" stroke="#000" stroke-width="1.6" stroke-linejoin="miter"/>
<text x="949.4" y="56.3" font-size="11" text-anchor="start" fill="#000" font-weight="bold" textLength="38.4" lengthAdjust="spacingAndGlyphs">4783.83</text>
<path d="M944.7 487.6L948.3 482.8H977.6V492.3H948.3z" fill="#e4ffff" stroke="#3030e0" stroke-width="1.2"/>
<text x="949.6" y="491.3" font-size="10.5" text-anchor="start" fill="#000" textLength="27" lengthAdjust="spacingAndGlyphs">65.03</text>
<path d="M165 404L990 227" stroke="#ff0c0c" stroke-width="2.4" stroke-dasharray="5 3.2" fill="none"/>
<path d="M430.7 187.9L981.5 404.5" stroke="#ff0c0c" stroke-width="2.4" stroke-dasharray="5 3.2" fill="none"/>
<path d="M698.8 291L924.2 1.5" stroke="#ff0808" stroke-width="4.2" stroke-dasharray="3.5 2.4" fill="none"/>
<text x="449.4" y="62.1" font-size="14.6" text-anchor="middle" fill="#f01010" font-weight="bold">(A)</text>
<text x="433.8" y="111.1" font-size="14.6" text-anchor="middle" fill="#f01010" font-weight="bold">5?</text>
<text x="360.0" y="175.4" font-size="14.6" text-anchor="middle" fill="#f01010" font-weight="bold">3</text>
<text x="572.2" y="115.2" font-size="14.6" text-anchor="middle" fill="#f01010" font-weight="bold">B</text>
<text x="759.4" y="42.4" font-size="14.6" text-anchor="middle" fill="#f01010" font-weight="bold">(C)?</text>
<text x="86.4" y="220.1" font-size="14.6" text-anchor="middle" fill="#f01010" font-weight="bold">C?</text>
<text x="278.5" y="337.4" font-size="14.6" text-anchor="middle" fill="#f01010" font-weight="bold">2</text>
<text x="416.6" y="227.4" font-size="14.6" text-anchor="middle" fill="#f01010" font-weight="bold">4</text>
<text x="430.0" y="222.3" font-size="14.6" text-anchor="middle" fill="#f01010" font-weight="bold">?</text>
<text x="521.7" y="240.5" font-size="14.6" text-anchor="middle" fill="#f01010" font-weight="bold">A</text>
<text x="689.9" y="331.8" font-size="14.6" text-anchor="middle" fill="#f01010" font-weight="bold">C</text>
<text x="688.0" y="359.0" font-size="14.6" text-anchor="middle" fill="#f01010" font-weight="bold">(B)</text>
<text x="172.7" y="449.2" font-size="14.6" text-anchor="middle" fill="#f01010" font-weight="bold">X?</text>
<path d="M241.1 247.1v10h-2.4v-7.1l-2.7 1.3v-2l3.4-2.2z" fill="#f01010"/>
</svg></body></html>
